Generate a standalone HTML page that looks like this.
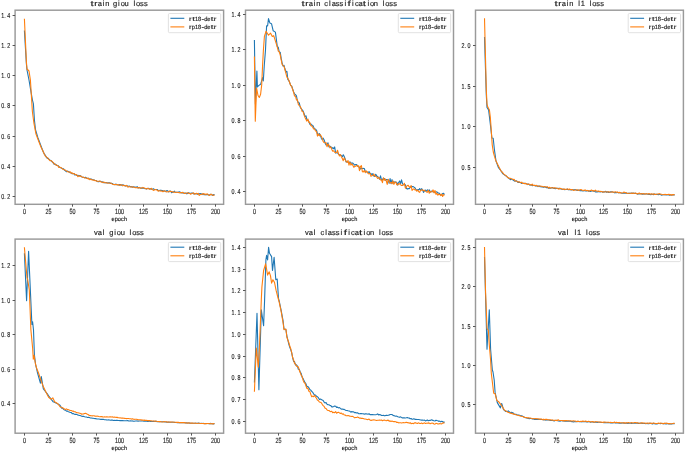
<!DOCTYPE html>
<html><head><meta charset="utf-8"><style>
html,body{margin:0;padding:0;background:#fff;}
svg{display:block;will-change:transform;}
text{font-family:"Liberation Sans",sans-serif;text-rendering:geometricPrecision;fill:#222;stroke:#222;stroke-width:0.15px;}
</style></head><body>
<svg width="685" height="452" viewBox="0 0 685 452">
<rect width="685" height="452" fill="#fff"/>
<path d="M24.4 30.5 L26.4 64 L27 70 L29 80 L31 91.9 L32.4 99.8 L33.4 103.8 L34.4 119.8 L35.5 129.7 L37.9 137.7 L40.9 145.7 L43.51 152.43 L44.47 154.11 L45.42 155.54 L46.38 157.13 L47.33 158.43 L48.29 158.24 L49.24 159.49 L50.2 160.16 L51.15 160.74 L52.11 161.76 L53.06 162.48 L54.02 164.1 L54.98 163.96 L55.93 164.52 L56.89 165.53 L57.84 165.48 L58.8 166.33 L59.75 167.44 L60.71 167.72 L61.66 168.15 L62.62 168.75 L63.58 168.9 L64.53 170.29 L65.49 170.78 L66.44 171.74 L67.4 171.08 L68.35 171.55 L69.31 172.01 L70.26 172.73 L71.22 172.98 L72.17 173.72 L73.13 173.73 L74.09 173.62 L75.04 175.09 L76 174.62 L76.95 175.57 L77.91 175.32 L78.86 175.83 L79.82 175.46 L80.77 176.04 L81.73 176.89 L82.69 177.28 L83.64 177.29 L84.6 177.75 L85.55 177.24 L86.51 178.21 L87.46 178.18 L88.42 178.29 L89.37 179.07 L90.33 179.01 L91.28 179.09 L92.24 179.53 L93.2 179.77 L94.15 180.06 L95.11 180.44 L96.06 180.5 L97.02 181.21 L97.97 181.65 L98.93 181.62 L99.88 181.3 L100.84 181.38 L101.8 181.96 L102.75 181.92 L103.71 182.71 L104.66 182.46 L105.62 182.74 L106.57 182.54 L107.53 183.01 L108.48 182.7 L109.44 182.71 L110.4 183.51 L111.35 183.16 L112.31 183.52 L113.26 184.24 L114.22 184.67 L115.17 184.24 L116.13 184.17 L117.08 184.74 L118.04 184.93 L118.99 184.88 L119.95 184.47 L120.91 184.72 L121.86 185.41 L122.82 184.72 L123.77 185.28 L124.73 185.83 L125.68 185.96 L126.64 185.56 L127.59 185.93 L128.55 186.19 L129.5 186.09 L130.46 186.77 L131.42 186.61 L132.37 187.26 L133.33 186.72 L134.28 186.98 L135.24 187.09 L136.19 187.42 L137.15 186.57 L138.1 187.96 L139.06 187.61 L140.02 187.84 L140.97 188.36 L141.93 187.99 L142.88 188.24 L143.84 188.23 L144.79 188.59 L145.75 188.63 L146.7 188.9 L147.66 188.57 L148.62 188.35 L149.57 189 L150.53 188.64 L151.48 189.2 L152.44 189.24 L153.39 188.71 L154.35 189.54 L155.3 189.45 L156.26 189.49 L157.21 189.46 L158.17 190.45 L159.13 190.67 L160.08 190.17 L161.04 190.36 L161.99 190.59 L162.95 190.66 L163.9 191.37 L164.86 190.86 L165.81 191.67 L166.77 190.5 L167.72 190.81 L168.68 191.88 L169.64 191.51 L170.59 190.97 L171.55 192.64 L172.5 192.15 L173.46 192.1 L174.41 191.11 L175.37 192.47 L176.32 192.21 L177.28 192.23 L178.24 192.23 L179.19 191.79 L180.15 192.1 L181.1 192.78 L182.06 193.06 L183.01 193.03 L183.97 193.01 L184.92 193.01 L185.88 193.2 L186.84 193.91 L187.79 193.19 L188.75 192.66 L189.7 193.49 L190.66 193.27 L191.61 193.07 L192.57 193.08 L193.52 193.92 L194.48 193.45 L195.43 193.71 L196.39 193.52 L197.35 194.34 L198.3 193.82 L199.26 193.88 L200.21 193.53 L201.17 193.7 L202.12 194.64 L203.08 193.92 L204.03 194.75 L204.99 194.62 L205.95 194.63 L206.9 194.65 L207.86 194.63 L208.81 195.13 L209.77 194.81 L210.72 194.3 L211.68 194.78 L212.63 195.54 L213.59 194.58 L214.54 195.08" fill="none" stroke="#1f77b4" stroke-width="1.1" stroke-linejoin="round"/>
<path d="M24.4 18.8 L26.4 62 L27 69 L29 71 L30.4 80 L31.4 95.9 L32.4 111.8 L34 123.7 L35.9 133.7 L38.9 141.7 L41.2 147.6 L43.51 152.33 L44.47 154.42 L45.42 156.14 L46.38 157.06 L47.33 157.65 L48.29 158.86 L49.24 159.8 L50.2 160.77 L51.15 160.62 L52.11 161.32 L53.06 162.75 L54.02 163.34 L54.98 164.42 L55.93 164.89 L56.89 165.16 L57.84 165.77 L58.8 167.53 L59.75 167.12 L60.71 167.61 L61.66 168.09 L62.62 169 L63.58 169.47 L64.53 169.73 L65.49 170.28 L66.44 170.85 L67.4 171.46 L68.35 172.05 L69.31 172.16 L70.26 171.85 L71.22 173.24 L72.17 172.88 L73.13 173.78 L74.09 173.61 L75.04 174.49 L76 174.51 L76.95 175.21 L77.91 176.7 L78.86 175.75 L79.82 176.41 L80.77 175.91 L81.73 176.63 L82.69 177.31 L83.64 177.34 L84.6 177.84 L85.55 177.99 L86.51 177.81 L87.46 178.65 L88.42 178.38 L89.37 179.65 L90.33 178.99 L91.28 179.69 L92.24 179.68 L93.2 180.29 L94.15 179.94 L95.11 180.8 L96.06 180.62 L97.02 181.34 L97.97 181.29 L98.93 181.29 L99.88 181.13 L100.84 181.91 L101.8 181.99 L102.75 182.62 L103.71 182.05 L104.66 182.59 L105.62 182.76 L106.57 182.86 L107.53 183.03 L108.48 183.18 L109.44 183.05 L110.4 183.05 L111.35 183.44 L112.31 183.98 L113.26 184.48 L114.22 184.44 L115.17 184.62 L116.13 184.63 L117.08 184.72 L118.04 184.63 L118.99 184.97 L119.95 185.47 L120.91 184.78 L121.86 184.76 L122.82 185.88 L123.77 185.35 L124.73 185.74 L125.68 185.9 L126.64 185.37 L127.59 186.96 L128.55 186.95 L129.5 186.58 L130.46 187.03 L131.42 186.98 L132.37 186.69 L133.33 187.08 L134.28 187.36 L135.24 187.74 L136.19 187.68 L137.15 187.53 L138.1 188.12 L139.06 187.41 L140.02 188.09 L140.97 188.31 L141.93 187.87 L142.88 187.4 L143.84 187.83 L144.79 188.36 L145.75 188.57 L146.7 189.05 L147.66 188.21 L148.62 188.75 L149.57 189.15 L150.53 188.99 L151.48 188.31 L152.44 189.67 L153.39 190.39 L154.35 190.05 L155.3 189.48 L156.26 189.82 L157.21 190.22 L158.17 191.23 L159.13 190.68 L160.08 190.64 L161.04 191.34 L161.99 190.87 L162.95 191.77 L163.9 190.9 L164.86 191.06 L165.81 191.6 L166.77 191.95 L167.72 191.74 L168.68 191.69 L169.64 190.97 L170.59 191.48 L171.55 191.6 L172.5 191.71 L173.46 192.22 L174.41 191.95 L175.37 192.46 L176.32 192.28 L177.28 192.21 L178.24 192.46 L179.19 192.66 L180.15 192.9 L181.1 192.47 L182.06 192.64 L183.01 192.29 L183.97 193.49 L184.92 193.51 L185.88 192.97 L186.84 192.93 L187.79 192.72 L188.75 193.34 L189.7 193.43 L190.66 194.25 L191.61 193.6 L192.57 193.28 L193.52 192.73 L194.48 194.27 L195.43 193.88 L196.39 193.26 L197.35 194.01 L198.3 193.39 L199.26 195.39 L200.21 194.56 L201.17 194.41 L202.12 194.19 L203.08 193.51 L204.03 194.34 L204.99 193.86 L205.95 194.74 L206.9 193.77 L207.86 194.3 L208.81 195.17 L209.77 195.4 L210.72 194.39 L211.68 194.32 L212.63 195.3 L213.59 195.36 L214.54 194.72" fill="none" stroke="#ff7f0e" stroke-width="1.1" stroke-linejoin="round"/>
<rect x="15.1" y="10.2" width="208.5" height="194.1" fill="none" stroke="#9a9a9a" stroke-width="1.45"/>
<line x1="24.5" y1="204.3" x2="24.5" y2="206.7" stroke="#444" stroke-width="0.9"/>
<g style="font-size:7.5px;stroke-width:0.14px;fill:#3a3a3a;stroke:#3a3a3a"><text transform="translate(23 213.9) scale(0.72 1)">0</text></g>
<line x1="48.5" y1="204.3" x2="48.5" y2="206.7" stroke="#444" stroke-width="0.9"/>
<g style="font-size:7.5px;stroke-width:0.14px;fill:#3a3a3a;stroke:#3a3a3a"><text transform="translate(45.52 213.9) scale(0.72 1)">2</text><text transform="translate(48.47 213.9) scale(0.72 1)">5</text></g>
<line x1="72.5" y1="204.3" x2="72.5" y2="206.7" stroke="#444" stroke-width="0.9"/>
<g style="font-size:7.5px;stroke-width:0.14px;fill:#3a3a3a;stroke:#3a3a3a"><text transform="translate(69.52 213.9) scale(0.72 1)">5</text><text transform="translate(72.47 213.9) scale(0.72 1)">0</text></g>
<line x1="96.5" y1="204.3" x2="96.5" y2="206.7" stroke="#444" stroke-width="0.9"/>
<g style="font-size:7.5px;stroke-width:0.14px;fill:#3a3a3a;stroke:#3a3a3a"><text transform="translate(93.52 213.9) scale(0.72 1)">7</text><text transform="translate(96.47 213.9) scale(0.72 1)">5</text></g>
<line x1="119.5" y1="204.3" x2="119.5" y2="206.7" stroke="#444" stroke-width="0.9"/>
<g style="font-size:7.5px;stroke-width:0.14px;fill:#3a3a3a;stroke:#3a3a3a"><text transform="translate(115.05 213.9) scale(0.72 1)">1</text><text transform="translate(118 213.9) scale(0.72 1)">0</text><text transform="translate(120.95 213.9) scale(0.72 1)">0</text></g>
<line x1="143.5" y1="204.3" x2="143.5" y2="206.7" stroke="#444" stroke-width="0.9"/>
<g style="font-size:7.5px;stroke-width:0.14px;fill:#3a3a3a;stroke:#3a3a3a"><text transform="translate(139.05 213.9) scale(0.72 1)">1</text><text transform="translate(142 213.9) scale(0.72 1)">2</text><text transform="translate(144.95 213.9) scale(0.72 1)">5</text></g>
<line x1="167.5" y1="204.3" x2="167.5" y2="206.7" stroke="#444" stroke-width="0.9"/>
<g style="font-size:7.5px;stroke-width:0.14px;fill:#3a3a3a;stroke:#3a3a3a"><text transform="translate(163.05 213.9) scale(0.72 1)">1</text><text transform="translate(166 213.9) scale(0.72 1)">5</text><text transform="translate(168.95 213.9) scale(0.72 1)">0</text></g>
<line x1="191.5" y1="204.3" x2="191.5" y2="206.7" stroke="#444" stroke-width="0.9"/>
<g style="font-size:7.5px;stroke-width:0.14px;fill:#3a3a3a;stroke:#3a3a3a"><text transform="translate(187.05 213.9) scale(0.72 1)">1</text><text transform="translate(190 213.9) scale(0.72 1)">7</text><text transform="translate(192.95 213.9) scale(0.72 1)">5</text></g>
<line x1="215.5" y1="204.3" x2="215.5" y2="206.7" stroke="#444" stroke-width="0.9"/>
<g style="font-size:7.5px;stroke-width:0.14px;fill:#3a3a3a;stroke:#3a3a3a"><text transform="translate(211.05 213.9) scale(0.72 1)">2</text><text transform="translate(214 213.9) scale(0.72 1)">0</text><text transform="translate(216.95 213.9) scale(0.72 1)">0</text></g>
<line x1="12.6" y1="196.5" x2="15.1" y2="196.5" stroke="#444" stroke-width="0.9"/>
<g style="font-size:7.2px;stroke-width:0.14px;fill:#3a3a3a;stroke:#3a3a3a"><text transform="translate(1.22 199.1) scale(0.74 1)">0</text><text transform="translate(4.3 199.1) scale(0.74 1)">.</text><text transform="translate(7.22 199.1) scale(0.74 1)">2</text></g>
<line x1="12.6" y1="166.5" x2="15.1" y2="166.5" stroke="#444" stroke-width="0.9"/>
<g style="font-size:7.2px;stroke-width:0.14px;fill:#3a3a3a;stroke:#3a3a3a"><text transform="translate(1.22 169.1) scale(0.74 1)">0</text><text transform="translate(4.3 169.1) scale(0.74 1)">.</text><text transform="translate(7.22 169.1) scale(0.74 1)">4</text></g>
<line x1="12.6" y1="136.5" x2="15.1" y2="136.5" stroke="#444" stroke-width="0.9"/>
<g style="font-size:7.2px;stroke-width:0.14px;fill:#3a3a3a;stroke:#3a3a3a"><text transform="translate(1.22 139.1) scale(0.74 1)">0</text><text transform="translate(4.3 139.1) scale(0.74 1)">.</text><text transform="translate(7.22 139.1) scale(0.74 1)">6</text></g>
<line x1="12.6" y1="105.5" x2="15.1" y2="105.5" stroke="#444" stroke-width="0.9"/>
<g style="font-size:7.2px;stroke-width:0.14px;fill:#3a3a3a;stroke:#3a3a3a"><text transform="translate(1.22 108.1) scale(0.74 1)">0</text><text transform="translate(4.3 108.1) scale(0.74 1)">.</text><text transform="translate(7.22 108.1) scale(0.74 1)">8</text></g>
<line x1="12.6" y1="75.5" x2="15.1" y2="75.5" stroke="#444" stroke-width="0.9"/>
<g style="font-size:7.2px;stroke-width:0.14px;fill:#3a3a3a;stroke:#3a3a3a"><text transform="translate(1.22 78.1) scale(0.74 1)">1</text><text transform="translate(4.3 78.1) scale(0.74 1)">.</text><text transform="translate(7.22 78.1) scale(0.74 1)">0</text></g>
<line x1="12.6" y1="45.5" x2="15.1" y2="45.5" stroke="#444" stroke-width="0.9"/>
<g style="font-size:7.2px;stroke-width:0.14px;fill:#3a3a3a;stroke:#3a3a3a"><text transform="translate(1.22 48.1) scale(0.74 1)">1</text><text transform="translate(4.3 48.1) scale(0.74 1)">.</text><text transform="translate(7.22 48.1) scale(0.74 1)">2</text></g>
<line x1="12.6" y1="15.5" x2="15.1" y2="15.5" stroke="#444" stroke-width="0.9"/>
<g style="font-size:7.2px;stroke-width:0.14px;fill:#3a3a3a;stroke:#3a3a3a"><text transform="translate(1.22 18.1) scale(0.74 1)">1</text><text transform="translate(4.3 18.1) scale(0.74 1)">.</text><text transform="translate(7.22 18.1) scale(0.74 1)">4</text></g>
<g style="font-size:6.1px;stroke-width:0.08px;fill:#2a2a2a;stroke:#2a2a2a"><text transform="translate(111.55 221.1) scale(0.92 1)">e</text><text transform="translate(114.67 221.1) scale(0.92 1)">p</text><text transform="translate(117.79 221.1) scale(0.92 1)">o</text><text transform="translate(121.07 221.1) scale(0.92 1)">c</text><text transform="translate(124.03 221.1) scale(0.92 1)">h</text></g>
<g style="font-size:7.5px;fill:#222"><text transform="translate(90.51 6) scale(1.562 1)">t</text><text transform="translate(94.34 6) scale(1.303 1)">r</text><text transform="translate(97.71 6) scale(1 1)">a</text><text transform="translate(102.8 6) scale(1 1)">i</text><text transform="translate(105.37 6) scale(1 1)">n</text><text transform="translate(113.03 6) scale(1 1)">g</text><text transform="translate(118.12 6) scale(1 1)">i</text><text transform="translate(120.69 6) scale(1 1)">o</text><text transform="translate(124.52 6) scale(1 1)">u</text><text transform="translate(133.44 6) scale(1 1)">l</text><text transform="translate(136.01 6) scale(1 1)">o</text><text transform="translate(140.06 6) scale(1 1)">s</text><text transform="translate(143.88 6) scale(1 1)">s</text></g>
<rect x="168.4" y="13.5" width="52.3" height="19.2" rx="1.2" fill="#fff" fill-opacity="0.8" stroke="#d9d9d9" stroke-width="0.8"/>
<line x1="170.4" y1="18.3" x2="184.3" y2="18.3" stroke="#1f77b4" stroke-width="1.1"/>
<g style="font-size:6px"><text transform="translate(189.03 20.8) scale(1.319 1)">r</text><text transform="translate(192.13 20.8) scale(1.581 1)">t</text><text transform="translate(194.96 20.8) scale(0.95 1)">1</text><text transform="translate(198.06 20.8) scale(0.95 1)">8</text><text transform="translate(201.43 20.8) scale(1.319 1)">-</text><text transform="translate(204.26 20.8) scale(0.95 1)">d</text><text transform="translate(207.36 20.8) scale(0.95 1)">e</text><text transform="translate(210.73 20.8) scale(1.581 1)">t</text><text transform="translate(213.83 20.8) scale(1.319 1)">r</text></g>
<line x1="170.4" y1="26.9" x2="184.3" y2="26.9" stroke="#ff7f0e" stroke-width="1.1"/>
<g style="font-size:6px"><text transform="translate(189.03 29.4) scale(1.319 1)">r</text><text transform="translate(191.86 29.4) scale(0.95 1)">p</text><text transform="translate(194.96 29.4) scale(0.95 1)">1</text><text transform="translate(198.06 29.4) scale(0.95 1)">8</text><text transform="translate(201.43 29.4) scale(1.319 1)">-</text><text transform="translate(204.26 29.4) scale(0.95 1)">d</text><text transform="translate(207.36 29.4) scale(0.95 1)">e</text><text transform="translate(210.73 29.4) scale(1.581 1)">t</text><text transform="translate(213.83 29.4) scale(1.319 1)">r</text></g>
<path d="M254.4 40.1 L255.4 104 L256.9 71 L257.4 87 L258.6 85.6 L260.6 84.3 L262.6 77.6 L263.3 81 L264.3 65 L265.5 50 L266.6 25.9 L267.6 26 L268.5 18.6 L269.9 23.1 L271.5 23.7 L273.2 30.8 L275.4 32.1 L277.33 46.76 L278.29 47.31 L279.24 52 L280.2 52.19 L281.15 58.15 L282.11 62.97 L283.06 66.18 L284.02 65.38 L284.98 69.02 L285.93 72.04 L286.89 71.28 L287.84 79.4 L288.8 80.53 L289.75 82.72 L290.71 85.57 L291.66 85.93 L292.62 88.81 L293.58 91.77 L294.53 93.86 L295.49 94.59 L296.44 95.94 L297.4 100.75 L298.35 102.82 L299.31 102.88 L300.26 107.47 L301.22 108.52 L302.18 109.95 L303.13 111.2 L304.09 113.55 L305.04 116.42 L306 115.88 L306.95 119.98 L307.91 120.01 L308.86 121.49 L309.82 124.21 L310.77 123.75 L311.73 125.3 L312.69 125.28 L313.64 127.29 L314.6 128.77 L315.55 129.17 L316.51 130.27 L317.46 133.6 L318.42 134.98 L319.37 133.6 L320.33 135.1 L321.29 138.18 L322.24 139.83 L323.2 138.19 L324.15 139.98 L325.11 142.93 L326.06 144.93 L327.02 144.62 L327.97 142.77 L328.93 146.94 L329.88 146.14 L330.84 146.78 L331.8 148.56 L332.75 147.66 L333.71 148.77 L334.66 146.88 L335.62 153.08 L336.57 152.71 L337.53 152.69 L338.48 154.17 L339.44 154.83 L340.39 154.99 L341.35 155.48 L342.31 156.75 L343.26 154.73 L344.22 156.5 L345.17 159.01 L346.13 162 L347.08 161.39 L348.04 162.28 L348.99 162.66 L349.95 161.92 L350.91 163.09 L351.86 163.12 L352.82 163.03 L353.77 164.06 L354.73 165.12 L355.68 164.47 L356.64 164.6 L357.59 166.31 L358.55 166.59 L359.5 167.28 L360.46 168.99 L361.42 168.24 L362.37 168.56 L363.33 168.42 L364.28 168.51 L365.24 171.25 L366.19 171.8 L367.15 172.14 L368.1 172.6 L369.06 171.61 L370.02 173.35 L370.97 173.51 L371.93 174.54 L372.88 173.58 L373.84 176.13 L374.79 176.46 L375.75 174.28 L376.7 175.88 L377.66 176.49 L378.62 177.62 L379.57 179.11 L380.53 175.79 L381.48 179.76 L382.44 179.57 L383.39 178.35 L384.35 178.51 L385.3 180.34 L386.26 179.54 L387.21 179.56 L388.17 179.94 L389.13 183.3 L390.08 178.55 L391.04 183.7 L391.99 179.57 L392.95 183.32 L393.9 181.53 L394.86 182.53 L395.81 181.89 L396.77 182.55 L397.73 185.01 L398.68 182.55 L399.64 180.94 L400.59 183.57 L401.55 179.9 L402.5 183.69 L403.46 184.79 L404.41 184.45 L405.37 184.85 L406.32 188.24 L407.28 189.08 L408.24 188.55 L409.19 188.77 L410.15 187.52 L411.1 186.28 L412.06 186.65 L413.01 186.45 L413.97 187.1 L414.92 187.73 L415.88 189.41 L416.84 190.58 L417.79 189.54 L418.75 190.06 L419.7 188.46 L420.66 190.33 L421.61 188.68 L422.57 189.81 L423.52 192.38 L424.48 190.7 L425.43 190.07 L426.39 191.25 L427.35 189.77 L428.3 190.9 L429.26 189.81 L430.21 192.19 L431.17 191.08 L432.12 191.41 L433.08 191.86 L434.03 191.97 L434.99 192.17 L435.95 192.01 L436.9 191.81 L437.86 192.91 L438.81 192.99 L439.77 193.91 L440.72 194.55 L441.68 195.08 L442.63 193.51 L443.59 193.3 L444.54 194.49" fill="none" stroke="#1f77b4" stroke-width="1.1" stroke-linejoin="round"/>
<path d="M254.4 56.4 L255.3 121.2 L256.6 88.2 L258 95.5 L259.3 97.5 L260.6 94.2 L261.7 84.9 L262.6 65 L263.4 50 L264.4 36.5 L266.1 31.2 L268.5 35.2 L270.6 33.2 L272.3 36.5 L273.7 35.7 L277.33 47.13 L278.29 51.12 L279.24 51.72 L280.2 54.88 L281.15 59.75 L282.11 64.38 L283.06 65.55 L284.02 66.41 L284.98 69.77 L285.93 73.36 L286.89 77.05 L287.84 78.23 L288.8 80.2 L289.75 82.78 L290.71 85.48 L291.66 86.46 L292.62 89.56 L293.58 92.05 L294.53 96 L295.49 96.19 L296.44 99.86 L297.4 99.67 L298.35 104.43 L299.31 105.55 L300.26 106.35 L301.22 108.7 L302.18 111.57 L303.13 111.71 L304.09 115.16 L305.04 117.54 L306 119.41 L306.95 121.14 L307.91 119.1 L308.86 122.41 L309.82 122.37 L310.77 125.7 L311.73 125.85 L312.69 127.31 L313.64 128.91 L314.6 128.85 L315.55 131.02 L316.51 131.26 L317.46 136.08 L318.42 134.02 L319.37 135.81 L320.33 134.73 L321.29 136.28 L322.24 138.29 L323.2 141.56 L324.15 142.48 L325.11 142.81 L326.06 142.59 L327.02 146.73 L327.97 144.01 L328.93 145.18 L329.88 147.85 L330.84 146.92 L331.8 149.41 L332.75 151.18 L333.71 150.72 L334.66 152.2 L335.62 152.59 L336.57 152.55 L337.53 150.23 L338.48 153.59 L339.44 155.92 L340.39 154.59 L341.35 156.73 L342.31 158.47 L343.26 160.67 L344.22 157.97 L345.17 159.8 L346.13 161.52 L347.08 162.46 L348.04 160.5 L348.99 165.12 L349.95 162.17 L350.91 165.09 L351.86 163.92 L352.82 165.18 L353.77 167.27 L354.73 166.52 L355.68 166.26 L356.64 165.29 L357.59 166.23 L358.55 165.72 L359.5 170.62 L360.46 166.52 L361.42 165.69 L362.37 171.69 L363.33 171.9 L364.28 170.47 L365.24 172.63 L366.19 170.95 L367.15 171.71 L368.1 173.55 L369.06 173.86 L370.02 173.21 L370.97 176.34 L371.93 175.65 L372.88 175.33 L373.84 174.09 L374.79 176.26 L375.75 176.15 L376.7 176.93 L377.66 178.53 L378.62 177.23 L379.57 178.78 L380.53 179.94 L381.48 179.84 L382.44 182.65 L383.39 177.74 L384.35 180.19 L385.3 179.03 L386.26 180.76 L387.21 184.38 L388.17 179.31 L389.13 181.33 L390.08 182.84 L391.04 182.4 L391.99 183.75 L392.95 180.85 L393.9 184.4 L394.86 182.2 L395.81 182.15 L396.77 184.74 L397.73 184.91 L398.68 183.64 L399.64 183.81 L400.59 184.89 L401.55 185.42 L402.5 185.5 L403.46 184.69 L404.41 183.29 L405.37 188.26 L406.32 187.07 L407.28 185.53 L408.24 185.4 L409.19 186.82 L410.15 187.46 L411.1 185.53 L412.06 190.38 L413.01 189.41 L413.97 188.73 L414.92 189.88 L415.88 189.91 L416.84 191.17 L417.79 190.18 L418.75 191.8 L419.7 192.35 L420.66 190.13 L421.61 190.13 L422.57 189.76 L423.52 190.77 L424.48 190.27 L425.43 191.36 L426.39 191.88 L427.35 192.32 L428.3 190.27 L429.26 193.3 L430.21 191.63 L431.17 192.03 L432.12 191.65 L433.08 189.88 L434.03 192.95 L434.99 190.47 L435.95 194.35 L436.9 193.12 L437.86 195.23 L438.81 194.2 L439.77 194.42 L440.72 195.63 L441.68 194.07 L442.63 196.43 L443.59 194.59 L444.54 195.25" fill="none" stroke="#ff7f0e" stroke-width="1.1" stroke-linejoin="round"/>
<rect x="245.5" y="10.2" width="208" height="194.1" fill="none" stroke="#9a9a9a" stroke-width="1.45"/>
<line x1="254.5" y1="204.3" x2="254.5" y2="206.7" stroke="#444" stroke-width="0.9"/>
<g style="font-size:7.5px;stroke-width:0.14px;fill:#3a3a3a;stroke:#3a3a3a"><text transform="translate(253 213.9) scale(0.72 1)">0</text></g>
<line x1="278.5" y1="204.3" x2="278.5" y2="206.7" stroke="#444" stroke-width="0.9"/>
<g style="font-size:7.5px;stroke-width:0.14px;fill:#3a3a3a;stroke:#3a3a3a"><text transform="translate(275.52 213.9) scale(0.72 1)">2</text><text transform="translate(278.47 213.9) scale(0.72 1)">5</text></g>
<line x1="302.5" y1="204.3" x2="302.5" y2="206.7" stroke="#444" stroke-width="0.9"/>
<g style="font-size:7.5px;stroke-width:0.14px;fill:#3a3a3a;stroke:#3a3a3a"><text transform="translate(299.52 213.9) scale(0.72 1)">5</text><text transform="translate(302.47 213.9) scale(0.72 1)">0</text></g>
<line x1="326.5" y1="204.3" x2="326.5" y2="206.7" stroke="#444" stroke-width="0.9"/>
<g style="font-size:7.5px;stroke-width:0.14px;fill:#3a3a3a;stroke:#3a3a3a"><text transform="translate(323.52 213.9) scale(0.72 1)">7</text><text transform="translate(326.47 213.9) scale(0.72 1)">5</text></g>
<line x1="349.5" y1="204.3" x2="349.5" y2="206.7" stroke="#444" stroke-width="0.9"/>
<g style="font-size:7.5px;stroke-width:0.14px;fill:#3a3a3a;stroke:#3a3a3a"><text transform="translate(345.05 213.9) scale(0.72 1)">1</text><text transform="translate(348 213.9) scale(0.72 1)">0</text><text transform="translate(350.95 213.9) scale(0.72 1)">0</text></g>
<line x1="373.5" y1="204.3" x2="373.5" y2="206.7" stroke="#444" stroke-width="0.9"/>
<g style="font-size:7.5px;stroke-width:0.14px;fill:#3a3a3a;stroke:#3a3a3a"><text transform="translate(369.05 213.9) scale(0.72 1)">1</text><text transform="translate(372 213.9) scale(0.72 1)">2</text><text transform="translate(374.95 213.9) scale(0.72 1)">5</text></g>
<line x1="397.5" y1="204.3" x2="397.5" y2="206.7" stroke="#444" stroke-width="0.9"/>
<g style="font-size:7.5px;stroke-width:0.14px;fill:#3a3a3a;stroke:#3a3a3a"><text transform="translate(393.05 213.9) scale(0.72 1)">1</text><text transform="translate(396 213.9) scale(0.72 1)">5</text><text transform="translate(398.95 213.9) scale(0.72 1)">0</text></g>
<line x1="421.5" y1="204.3" x2="421.5" y2="206.7" stroke="#444" stroke-width="0.9"/>
<g style="font-size:7.5px;stroke-width:0.14px;fill:#3a3a3a;stroke:#3a3a3a"><text transform="translate(417.05 213.9) scale(0.72 1)">1</text><text transform="translate(420 213.9) scale(0.72 1)">7</text><text transform="translate(422.95 213.9) scale(0.72 1)">5</text></g>
<line x1="445.5" y1="204.3" x2="445.5" y2="206.7" stroke="#444" stroke-width="0.9"/>
<g style="font-size:7.5px;stroke-width:0.14px;fill:#3a3a3a;stroke:#3a3a3a"><text transform="translate(441.05 213.9) scale(0.72 1)">2</text><text transform="translate(444 213.9) scale(0.72 1)">0</text><text transform="translate(446.95 213.9) scale(0.72 1)">0</text></g>
<line x1="243" y1="191.5" x2="245.5" y2="191.5" stroke="#444" stroke-width="0.9"/>
<g style="font-size:7.2px;stroke-width:0.14px;fill:#3a3a3a;stroke:#3a3a3a"><text transform="translate(231.62 194.1) scale(0.74 1)">0</text><text transform="translate(234.7 194.1) scale(0.74 1)">.</text><text transform="translate(237.62 194.1) scale(0.74 1)">4</text></g>
<line x1="243" y1="156.5" x2="245.5" y2="156.5" stroke="#444" stroke-width="0.9"/>
<g style="font-size:7.2px;stroke-width:0.14px;fill:#3a3a3a;stroke:#3a3a3a"><text transform="translate(231.62 159.1) scale(0.74 1)">0</text><text transform="translate(234.7 159.1) scale(0.74 1)">.</text><text transform="translate(237.62 159.1) scale(0.74 1)">6</text></g>
<line x1="243" y1="120.5" x2="245.5" y2="120.5" stroke="#444" stroke-width="0.9"/>
<g style="font-size:7.2px;stroke-width:0.14px;fill:#3a3a3a;stroke:#3a3a3a"><text transform="translate(231.62 123.1) scale(0.74 1)">0</text><text transform="translate(234.7 123.1) scale(0.74 1)">.</text><text transform="translate(237.62 123.1) scale(0.74 1)">8</text></g>
<line x1="243" y1="85.5" x2="245.5" y2="85.5" stroke="#444" stroke-width="0.9"/>
<g style="font-size:7.2px;stroke-width:0.14px;fill:#3a3a3a;stroke:#3a3a3a"><text transform="translate(231.62 88.1) scale(0.74 1)">1</text><text transform="translate(234.7 88.1) scale(0.74 1)">.</text><text transform="translate(237.62 88.1) scale(0.74 1)">0</text></g>
<line x1="243" y1="49.5" x2="245.5" y2="49.5" stroke="#444" stroke-width="0.9"/>
<g style="font-size:7.2px;stroke-width:0.14px;fill:#3a3a3a;stroke:#3a3a3a"><text transform="translate(231.62 52.1) scale(0.74 1)">1</text><text transform="translate(234.7 52.1) scale(0.74 1)">.</text><text transform="translate(237.62 52.1) scale(0.74 1)">2</text></g>
<line x1="243" y1="14.5" x2="245.5" y2="14.5" stroke="#444" stroke-width="0.9"/>
<g style="font-size:7.2px;stroke-width:0.14px;fill:#3a3a3a;stroke:#3a3a3a"><text transform="translate(231.62 17.1) scale(0.74 1)">1</text><text transform="translate(234.7 17.1) scale(0.74 1)">.</text><text transform="translate(237.62 17.1) scale(0.74 1)">4</text></g>
<g style="font-size:6.1px;stroke-width:0.08px;fill:#2a2a2a;stroke:#2a2a2a"><text transform="translate(341.7 221.1) scale(0.92 1)">e</text><text transform="translate(344.82 221.1) scale(0.92 1)">p</text><text transform="translate(347.94 221.1) scale(0.92 1)">o</text><text transform="translate(351.22 221.1) scale(0.92 1)">c</text><text transform="translate(354.18 221.1) scale(0.92 1)">h</text></g>
<g style="font-size:7.5px;fill:#222"><text transform="translate(301.51 6) scale(1.562 1)">t</text><text transform="translate(305.34 6) scale(1.303 1)">r</text><text transform="translate(308.71 6) scale(1 1)">a</text><text transform="translate(313.8 6) scale(1 1)">i</text><text transform="translate(316.37 6) scale(1 1)">n</text><text transform="translate(324.25 6) scale(1 1)">c</text><text transform="translate(329.12 6) scale(1 1)">l</text><text transform="translate(331.69 6) scale(1 1)">a</text><text transform="translate(335.74 6) scale(1 1)">s</text><text transform="translate(339.57 6) scale(1 1)">s</text><text transform="translate(344.44 6) scale(1 1)">i</text><text transform="translate(347.47 6) scale(1.562 1)">f</text><text transform="translate(352.1 6) scale(1 1)">i</text><text transform="translate(354.89 6) scale(1 1)">c</text><text transform="translate(358.5 6) scale(1 1)">a</text><text transform="translate(362.79 6) scale(1.562 1)">t</text><text transform="translate(367.42 6) scale(1 1)">i</text><text transform="translate(369.99 6) scale(1 1)">o</text><text transform="translate(373.82 6) scale(1 1)">n</text><text transform="translate(382.74 6) scale(1 1)">l</text><text transform="translate(385.31 6) scale(1 1)">o</text><text transform="translate(389.36 6) scale(1 1)">s</text><text transform="translate(393.19 6) scale(1 1)">s</text></g>
<rect x="398.3" y="13.5" width="52.3" height="19.2" rx="1.2" fill="#fff" fill-opacity="0.8" stroke="#d9d9d9" stroke-width="0.8"/>
<line x1="400.3" y1="18.3" x2="414.2" y2="18.3" stroke="#1f77b4" stroke-width="1.1"/>
<g style="font-size:6px"><text transform="translate(418.93 20.8) scale(1.319 1)">r</text><text transform="translate(422.03 20.8) scale(1.581 1)">t</text><text transform="translate(424.86 20.8) scale(0.95 1)">1</text><text transform="translate(427.96 20.8) scale(0.95 1)">8</text><text transform="translate(431.33 20.8) scale(1.319 1)">-</text><text transform="translate(434.16 20.8) scale(0.95 1)">d</text><text transform="translate(437.26 20.8) scale(0.95 1)">e</text><text transform="translate(440.63 20.8) scale(1.581 1)">t</text><text transform="translate(443.73 20.8) scale(1.319 1)">r</text></g>
<line x1="400.3" y1="26.9" x2="414.2" y2="26.9" stroke="#ff7f0e" stroke-width="1.1"/>
<g style="font-size:6px"><text transform="translate(418.93 29.4) scale(1.319 1)">r</text><text transform="translate(421.76 29.4) scale(0.95 1)">p</text><text transform="translate(424.86 29.4) scale(0.95 1)">1</text><text transform="translate(427.96 29.4) scale(0.95 1)">8</text><text transform="translate(431.33 29.4) scale(1.319 1)">-</text><text transform="translate(434.16 29.4) scale(0.95 1)">d</text><text transform="translate(437.26 29.4) scale(0.95 1)">e</text><text transform="translate(440.63 29.4) scale(1.581 1)">t</text><text transform="translate(443.73 29.4) scale(1.319 1)">r</text></g>
<path d="M484.5 36.9 L486.3 95 L487 107.4 L488.6 109.9 L490.3 123.9 L491.9 138 L493.2 138.3 L494.4 149.5 L496 161.1 L498.5 167.7 L500.74 170.46 L501.7 171.87 L502.65 173.58 L503.61 174.16 L504.57 174.87 L505.52 175.78 L506.48 175.95 L507.43 177.3 L508.39 178.11 L509.34 178.31 L510.3 179.68 L511.25 179.12 L512.21 179.57 L513.16 180.09 L514.12 180.7 L515.08 181.29 L516.03 180.67 L516.99 181.23 L517.94 182.38 L518.9 182.12 L519.85 182.35 L520.81 182.69 L521.76 183.5 L522.72 183.3 L523.68 183.24 L524.63 183.28 L525.59 183.58 L526.54 184.01 L527.5 183.95 L528.45 184.04 L529.41 184.96 L530.36 185.08 L531.32 184.81 L532.27 185.71 L533.23 185.51 L534.19 185.35 L535.14 185.87 L536.1 185.95 L537.05 185.8 L538.01 186.63 L538.96 185.87 L539.92 186.69 L540.87 186.44 L541.83 187.04 L542.79 186.99 L543.74 187.36 L544.7 186.5 L545.65 187.18 L546.61 187.7 L547.56 187.38 L548.52 188.27 L549.47 188.05 L550.43 188.21 L551.38 187.91 L552.34 187.45 L553.3 188.31 L554.25 188.34 L555.21 188.67 L556.16 188.39 L557.12 188.22 L558.07 188.52 L559.03 188.32 L559.98 188.63 L560.94 189.02 L561.9 189.17 L562.85 189.45 L563.81 189.12 L564.76 189.67 L565.72 189.51 L566.67 189.2 L567.63 189.38 L568.58 189.71 L569.54 189.57 L570.5 189.62 L571.45 190.01 L572.41 189.53 L573.36 189.89 L574.32 189.77 L575.27 189.62 L576.23 190.1 L577.18 190.56 L578.14 190.16 L579.09 190.11 L580.05 190.78 L581.01 190.62 L581.96 190.66 L582.92 190.91 L583.87 190.67 L584.83 190.65 L585.78 191.02 L586.74 190.88 L587.69 190.42 L588.65 191.21 L589.61 191.03 L590.56 191.57 L591.52 191.1 L592.47 190.55 L593.43 191.2 L594.38 191.2 L595.34 191.87 L596.29 191.76 L597.25 191.89 L598.2 191.4 L599.16 191.62 L600.12 192.1 L601.07 191.38 L602.03 191.87 L602.98 192.17 L603.94 191.7 L604.89 191.95 L605.85 191.27 L606.8 192.42 L607.76 191.75 L608.72 192.53 L609.67 192.28 L610.63 191.8 L611.58 191.88 L612.54 192.02 L613.49 192.32 L614.45 192.86 L615.4 192.5 L616.36 192.74 L617.31 192.24 L618.27 192.83 L619.23 192.67 L620.18 192.8 L621.14 192.95 L622.09 193.33 L623.05 193.19 L624 193.2 L624.96 193.12 L625.91 193.03 L626.87 193.35 L627.83 193.38 L628.78 193.25 L629.74 193.36 L630.69 193.26 L631.65 193.1 L632.6 193.54 L633.56 193.04 L634.51 193.54 L635.47 193.29 L636.42 193.56 L637.38 194.13 L638.34 193.92 L639.29 194.01 L640.25 193.76 L641.2 193.54 L642.16 194.17 L643.11 194.24 L644.07 193.85 L645.02 193.94 L645.98 193.99 L646.93 193.99 L647.89 194.32 L648.85 194.46 L649.8 194.11 L650.76 194.73 L651.71 194.08 L652.67 194.46 L653.62 194.6 L654.58 193.88 L655.53 194.45 L656.49 194.31 L657.45 194.48 L658.4 194.66 L659.36 194.55 L660.31 194.26 L661.27 195.22 L662.22 195.05 L663.18 194.78 L664.13 194.77 L665.09 195.03 L666.05 194.61 L667 195.08 L667.96 194.55 L668.91 195.12 L669.87 195.19 L670.82 194.97 L671.78 194.94 L672.73 195.08 L673.69 194.79 L674.64 194.84" fill="none" stroke="#1f77b4" stroke-width="1.1" stroke-linejoin="round"/>
<path d="M484.5 18.2 L486.3 90 L487 104 L487.6 106.6 L489.4 109.9 L490.3 117 L491.1 128 L492.2 144.6 L493.3 152 L494.4 156.2 L495.8 160.5 L497.7 164.4 L500.74 170.54 L501.7 171.64 L502.65 172.5 L503.61 174.06 L504.57 174.61 L505.52 175.37 L506.48 176.05 L507.43 177.24 L508.39 177.78 L509.34 178.43 L510.3 178.36 L511.25 178.72 L512.21 178.95 L513.16 179.61 L514.12 179.23 L515.08 181.02 L516.03 180.96 L516.99 181.36 L517.94 181.93 L518.9 181.79 L519.85 182.24 L520.81 182.67 L521.76 182.17 L522.72 183.48 L523.68 183.23 L524.63 183.64 L525.59 183.36 L526.54 183.7 L527.5 184.61 L528.45 184.06 L529.41 184.26 L530.36 184.71 L531.32 185.18 L532.27 184.11 L533.23 185.53 L534.19 185.3 L535.14 185.67 L536.1 185.22 L537.05 185.81 L538.01 186.38 L538.96 185.97 L539.92 185.93 L540.87 186.12 L541.83 186.23 L542.79 186.79 L543.74 186.73 L544.7 186.64 L545.65 187.19 L546.61 186.72 L547.56 186.74 L548.52 188.12 L549.47 187.26 L550.43 188.12 L551.38 187.71 L552.34 187.78 L553.3 188.12 L554.25 187.78 L555.21 187.88 L556.16 188.18 L557.12 188.23 L558.07 188.68 L559.03 189.18 L559.98 188.27 L560.94 188.47 L561.9 189.09 L562.85 189.11 L563.81 189.41 L564.76 188.91 L565.72 189.44 L566.67 189.31 L567.63 188.86 L568.58 189.58 L569.54 188.98 L570.5 189.71 L571.45 189.45 L572.41 189.58 L573.36 190.39 L574.32 190.24 L575.27 189.94 L576.23 189.99 L577.18 189.66 L578.14 190.37 L579.09 190.22 L580.05 189.79 L581.01 189.59 L581.96 190.18 L582.92 190.19 L583.87 190.58 L584.83 190.03 L585.78 190.14 L586.74 190.62 L587.69 190.57 L588.65 190.91 L589.61 191.02 L590.56 190.43 L591.52 190.02 L592.47 190.86 L593.43 190.66 L594.38 191.04 L595.34 190.14 L596.29 191.04 L597.25 191.17 L598.2 191.02 L599.16 191.42 L600.12 191.35 L601.07 191.45 L602.03 191.86 L602.98 191.92 L603.94 191.96 L604.89 191.76 L605.85 191.75 L606.8 191.95 L607.76 191.93 L608.72 191.66 L609.67 192.08 L610.63 192.32 L611.58 191.95 L612.54 191.8 L613.49 192.4 L614.45 192.03 L615.4 191.86 L616.36 192.33 L617.31 191.98 L618.27 192.61 L619.23 192.38 L620.18 192.62 L621.14 193.01 L622.09 193.05 L623.05 192.71 L624 192.06 L624.96 192.68 L625.91 192.51 L626.87 193.22 L627.83 193.48 L628.78 193.25 L629.74 193.28 L630.69 193.3 L631.65 193.39 L632.6 193.1 L633.56 193.55 L634.51 193.21 L635.47 192.99 L636.42 193.42 L637.38 193.97 L638.34 193.44 L639.29 192.98 L640.25 193.99 L641.2 193.71 L642.16 193.84 L643.11 193.55 L644.07 193.89 L645.02 194.28 L645.98 193.59 L646.93 194.06 L647.89 193.98 L648.85 193.62 L649.8 193.99 L650.76 194.16 L651.71 193.73 L652.67 194.41 L653.62 193.71 L654.58 194.47 L655.53 194.34 L656.49 194.25 L657.45 193.95 L658.4 193.99 L659.36 193.56 L660.31 194.3 L661.27 194.3 L662.22 194.55 L663.18 194.73 L664.13 194.5 L665.09 194.37 L666.05 194.82 L667 194.54 L667.96 194.57 L668.91 194.23 L669.87 194.98 L670.82 194.46 L671.78 195.33 L672.73 194.47 L673.69 194.62 L674.64 194.84" fill="none" stroke="#ff7f0e" stroke-width="1.1" stroke-linejoin="round"/>
<rect x="475.5" y="10.2" width="207.9" height="194.1" fill="none" stroke="#9a9a9a" stroke-width="1.45"/>
<line x1="484.5" y1="204.3" x2="484.5" y2="206.7" stroke="#444" stroke-width="0.9"/>
<g style="font-size:7.5px;stroke-width:0.14px;fill:#3a3a3a;stroke:#3a3a3a"><text transform="translate(483 213.9) scale(0.72 1)">0</text></g>
<line x1="508.5" y1="204.3" x2="508.5" y2="206.7" stroke="#444" stroke-width="0.9"/>
<g style="font-size:7.5px;stroke-width:0.14px;fill:#3a3a3a;stroke:#3a3a3a"><text transform="translate(505.52 213.9) scale(0.72 1)">2</text><text transform="translate(508.47 213.9) scale(0.72 1)">5</text></g>
<line x1="532.5" y1="204.3" x2="532.5" y2="206.7" stroke="#444" stroke-width="0.9"/>
<g style="font-size:7.5px;stroke-width:0.14px;fill:#3a3a3a;stroke:#3a3a3a"><text transform="translate(529.52 213.9) scale(0.72 1)">5</text><text transform="translate(532.47 213.9) scale(0.72 1)">0</text></g>
<line x1="556.5" y1="204.3" x2="556.5" y2="206.7" stroke="#444" stroke-width="0.9"/>
<g style="font-size:7.5px;stroke-width:0.14px;fill:#3a3a3a;stroke:#3a3a3a"><text transform="translate(553.52 213.9) scale(0.72 1)">7</text><text transform="translate(556.47 213.9) scale(0.72 1)">5</text></g>
<line x1="580.5" y1="204.3" x2="580.5" y2="206.7" stroke="#444" stroke-width="0.9"/>
<g style="font-size:7.5px;stroke-width:0.14px;fill:#3a3a3a;stroke:#3a3a3a"><text transform="translate(576.05 213.9) scale(0.72 1)">1</text><text transform="translate(579 213.9) scale(0.72 1)">0</text><text transform="translate(581.95 213.9) scale(0.72 1)">0</text></g>
<line x1="603.5" y1="204.3" x2="603.5" y2="206.7" stroke="#444" stroke-width="0.9"/>
<g style="font-size:7.5px;stroke-width:0.14px;fill:#3a3a3a;stroke:#3a3a3a"><text transform="translate(599.05 213.9) scale(0.72 1)">1</text><text transform="translate(602 213.9) scale(0.72 1)">2</text><text transform="translate(604.95 213.9) scale(0.72 1)">5</text></g>
<line x1="627.5" y1="204.3" x2="627.5" y2="206.7" stroke="#444" stroke-width="0.9"/>
<g style="font-size:7.5px;stroke-width:0.14px;fill:#3a3a3a;stroke:#3a3a3a"><text transform="translate(623.05 213.9) scale(0.72 1)">1</text><text transform="translate(626 213.9) scale(0.72 1)">5</text><text transform="translate(628.95 213.9) scale(0.72 1)">0</text></g>
<line x1="651.5" y1="204.3" x2="651.5" y2="206.7" stroke="#444" stroke-width="0.9"/>
<g style="font-size:7.5px;stroke-width:0.14px;fill:#3a3a3a;stroke:#3a3a3a"><text transform="translate(647.05 213.9) scale(0.72 1)">1</text><text transform="translate(650 213.9) scale(0.72 1)">7</text><text transform="translate(652.95 213.9) scale(0.72 1)">5</text></g>
<line x1="675.5" y1="204.3" x2="675.5" y2="206.7" stroke="#444" stroke-width="0.9"/>
<g style="font-size:7.5px;stroke-width:0.14px;fill:#3a3a3a;stroke:#3a3a3a"><text transform="translate(671.05 213.9) scale(0.72 1)">2</text><text transform="translate(674 213.9) scale(0.72 1)">0</text><text transform="translate(676.95 213.9) scale(0.72 1)">0</text></g>
<line x1="473" y1="167.5" x2="475.5" y2="167.5" stroke="#444" stroke-width="0.9"/>
<g style="font-size:7.2px;stroke-width:0.14px;fill:#3a3a3a;stroke:#3a3a3a"><text transform="translate(461.62 170.1) scale(0.74 1)">0</text><text transform="translate(464.7 170.1) scale(0.74 1)">.</text><text transform="translate(467.62 170.1) scale(0.74 1)">5</text></g>
<line x1="473" y1="126.5" x2="475.5" y2="126.5" stroke="#444" stroke-width="0.9"/>
<g style="font-size:7.2px;stroke-width:0.14px;fill:#3a3a3a;stroke:#3a3a3a"><text transform="translate(461.62 129.1) scale(0.74 1)">1</text><text transform="translate(464.7 129.1) scale(0.74 1)">.</text><text transform="translate(467.62 129.1) scale(0.74 1)">0</text></g>
<line x1="473" y1="86.5" x2="475.5" y2="86.5" stroke="#444" stroke-width="0.9"/>
<g style="font-size:7.2px;stroke-width:0.14px;fill:#3a3a3a;stroke:#3a3a3a"><text transform="translate(461.62 89.1) scale(0.74 1)">1</text><text transform="translate(464.7 89.1) scale(0.74 1)">.</text><text transform="translate(467.62 89.1) scale(0.74 1)">5</text></g>
<line x1="473" y1="45.5" x2="475.5" y2="45.5" stroke="#444" stroke-width="0.9"/>
<g style="font-size:7.2px;stroke-width:0.14px;fill:#3a3a3a;stroke:#3a3a3a"><text transform="translate(461.62 48.1) scale(0.74 1)">2</text><text transform="translate(464.7 48.1) scale(0.74 1)">.</text><text transform="translate(467.62 48.1) scale(0.74 1)">0</text></g>
<g style="font-size:6.1px;stroke-width:0.08px;fill:#2a2a2a;stroke:#2a2a2a"><text transform="translate(571.65 221.1) scale(0.92 1)">e</text><text transform="translate(574.77 221.1) scale(0.92 1)">p</text><text transform="translate(577.89 221.1) scale(0.92 1)">o</text><text transform="translate(581.17 221.1) scale(0.92 1)">c</text><text transform="translate(584.13 221.1) scale(0.92 1)">h</text></g>
<g style="font-size:7.5px;fill:#222"><text transform="translate(554.44 6) scale(1.562 1)">t</text><text transform="translate(558.27 6) scale(1.303 1)">r</text><text transform="translate(561.64 6) scale(1 1)">a</text><text transform="translate(566.73 6) scale(1 1)">i</text><text transform="translate(569.3 6) scale(1 1)">n</text><text transform="translate(578.22 6) scale(1 1)">l</text><text transform="translate(580.79 6) scale(1 1)">1</text><text transform="translate(589.71 6) scale(1 1)">l</text><text transform="translate(592.28 6) scale(1 1)">o</text><text transform="translate(596.33 6) scale(1 1)">s</text><text transform="translate(600.16 6) scale(1 1)">s</text></g>
<rect x="628.2" y="13.5" width="52.3" height="19.2" rx="1.2" fill="#fff" fill-opacity="0.8" stroke="#d9d9d9" stroke-width="0.8"/>
<line x1="630.2" y1="18.3" x2="644.1" y2="18.3" stroke="#1f77b4" stroke-width="1.1"/>
<g style="font-size:6px"><text transform="translate(648.83 20.8) scale(1.319 1)">r</text><text transform="translate(651.93 20.8) scale(1.581 1)">t</text><text transform="translate(654.76 20.8) scale(0.95 1)">1</text><text transform="translate(657.86 20.8) scale(0.95 1)">8</text><text transform="translate(661.23 20.8) scale(1.319 1)">-</text><text transform="translate(664.06 20.8) scale(0.95 1)">d</text><text transform="translate(667.16 20.8) scale(0.95 1)">e</text><text transform="translate(670.53 20.8) scale(1.581 1)">t</text><text transform="translate(673.63 20.8) scale(1.319 1)">r</text></g>
<line x1="630.2" y1="26.9" x2="644.1" y2="26.9" stroke="#ff7f0e" stroke-width="1.1"/>
<g style="font-size:6px"><text transform="translate(648.83 29.4) scale(1.319 1)">r</text><text transform="translate(651.66 29.4) scale(0.95 1)">p</text><text transform="translate(654.76 29.4) scale(0.95 1)">1</text><text transform="translate(657.86 29.4) scale(0.95 1)">8</text><text transform="translate(661.23 29.4) scale(1.319 1)">-</text><text transform="translate(664.06 29.4) scale(0.95 1)">d</text><text transform="translate(667.16 29.4) scale(0.95 1)">e</text><text transform="translate(670.53 29.4) scale(1.581 1)">t</text><text transform="translate(673.63 29.4) scale(1.319 1)">r</text></g>
<path d="M24.4 253.3 L26.6 300.6 L28.6 251.3 L31.9 324.5 L32.6 321.8 L33.5 330 L34.4 354.8 L35.6 364.5 L37.3 372 L40.4 383.2 L41.3 376.6 L43.3 388.6 L44.6 390.5 L47.3 393.9 L48.6 395.9 L53.2 401.8 L56.6 403.2 L60 405.2 L61.5 408.1 L62.62 408 L63.58 409.35 L64.53 409.93 L65.49 410.21 L66.44 411.1 L67.4 411.03 L68.35 411.71 L69.31 412.09 L70.26 412.49 L71.22 412.46 L72.17 413.58 L73.13 413.51 L74.09 414.03 L75.04 414.38 L76 414.24 L76.95 414.54 L77.91 415.12 L78.86 415.26 L79.82 415.5 L80.77 415.81 L81.73 416.24 L82.69 416.33 L83.64 416.24 L84.6 416.69 L85.55 416.95 L86.51 417.04 L87.46 417.44 L88.42 417.3 L89.37 417.56 L90.33 417.94 L91.28 417.95 L92.24 418.16 L93.2 418.3 L94.15 418.49 L95.11 418.62 L96.06 418.63 L97.02 419.06 L97.97 418.93 L98.93 419.06 L99.88 419.23 L100.84 419.34 L101.8 419.36 L102.75 419.3 L103.71 419.41 L104.66 419.69 L105.62 419.72 L106.57 419.87 L107.53 419.93 L108.48 419.84 L109.44 419.97 L110.4 420.28 L111.35 420.08 L112.31 420.05 L113.26 420.42 L114.22 420.24 L115.17 420.44 L116.13 420.22 L117.08 420.35 L118.04 420.51 L118.99 420.53 L119.95 420.6 L120.91 420.65 L121.86 420.64 L122.82 420.47 L123.77 420.77 L124.73 420.78 L125.68 420.71 L126.64 420.76 L127.59 420.56 L128.55 420.85 L129.5 420.95 L130.46 420.84 L131.42 420.95 L132.37 420.91 L133.33 421.14 L134.28 421.21 L135.24 420.97 L136.19 420.95 L137.15 420.91 L138.1 421.15 L139.06 421.06 L140.02 421.02 L140.97 421.05 L141.93 421 L142.88 421.01 L143.84 421.2 L144.79 421.1 L145.75 421.24 L146.7 421.26 L147.66 421.48 L148.62 421.34 L149.57 421.11 L150.53 421.43 L151.48 421.41 L152.44 421.47 L153.39 421.37 L154.35 421.49 L155.3 421.4 L156.26 421.39 L157.21 421.62 L158.17 421.45 L159.13 421.63 L160.08 421.8 L161.04 421.73 L161.99 421.71 L162.95 421.8 L163.9 421.79 L164.86 422.03 L165.81 422.07 L166.77 422.08 L167.72 422.25 L168.68 422.11 L169.64 422.31 L170.59 422.28 L171.55 422.29 L172.5 422.29 L173.46 422.27 L174.41 422.35 L175.37 422.44 L176.32 422.49 L177.28 422.8 L178.24 422.62 L179.19 422.66 L180.15 422.73 L181.1 422.69 L182.06 422.75 L183.01 422.78 L183.97 422.67 L184.92 422.81 L185.88 423.03 L186.84 422.81 L187.79 423.02 L188.75 423.05 L189.7 423.11 L190.66 423.32 L191.61 423.3 L192.57 423.28 L193.52 423.22 L194.48 423.24 L195.43 423.2 L196.39 423.21 L197.35 423.26 L198.3 423.13 L199.26 423.28 L200.21 423.54 L201.17 423.24 L202.12 423.48 L203.08 423.35 L204.03 423.53 L204.99 423.67 L205.95 423.48 L206.9 423.49 L207.86 423.53 L208.81 423.6 L209.77 423.64 L210.72 423.39 L211.68 423.79 L212.63 423.68 L213.59 423.86 L214.54 423.57" fill="none" stroke="#1f77b4" stroke-width="1.1" stroke-linejoin="round"/>
<path d="M24.4 247.3 L27 277.8 L27.6 279.2 L29.3 290 L30.9 330 L32.6 347.7 L33.3 359.2 L34 355.2 L34.8 360.1 L35.6 364.5 L36.6 368 L38.6 373.3 L41.3 381.2 L43.3 386.6 L45.9 391.9 L48.6 397.2 L51.2 399.2 L52.8 397.8 L54.6 401.8 L57.9 403.8 L60 406.7 L62.62 407.78 L63.58 408.5 L64.53 409.02 L65.49 409.59 L66.44 408.89 L67.4 409.41 L68.35 409.64 L69.31 410.11 L70.26 410.45 L71.22 410.43 L72.17 411.14 L73.13 411 L74.09 411.78 L75.04 411.72 L76 412.29 L76.95 412.61 L77.91 412.78 L78.86 412.97 L79.82 413.22 L80.77 413.45 L81.73 414.23 L82.69 413.93 L83.64 413.92 L84.6 413.46 L85.55 413.28 L86.51 413.72 L87.46 414.34 L88.42 414.75 L89.37 415.53 L90.33 415.63 L91.28 415.79 L92.24 415.89 L93.2 415.73 L94.15 415.68 L95.11 416.13 L96.06 416.18 L97.02 416.15 L97.97 416.25 L98.93 416.52 L99.88 416.71 L100.84 416.66 L101.8 416.64 L102.75 416.89 L103.71 417.01 L104.66 416.78 L105.62 416.98 L106.57 416.8 L107.53 416.9 L108.48 416.95 L109.44 416.91 L110.4 416.74 L111.35 416.97 L112.31 416.87 L113.26 417.18 L114.22 417 L115.17 417.24 L116.13 417.33 L117.08 417.4 L118.04 417.59 L118.99 417.69 L119.95 417.96 L120.91 417.92 L121.86 418.1 L122.82 417.97 L123.77 418.3 L124.73 418.39 L125.68 418.54 L126.64 418.64 L127.59 418.49 L128.55 418.54 L129.5 418.68 L130.46 418.79 L131.42 419.1 L132.37 418.83 L133.33 419.14 L134.28 419.33 L135.24 419.3 L136.19 419.26 L137.15 419.41 L138.1 419.65 L139.06 419.76 L140.02 419.76 L140.97 419.9 L141.93 420.1 L142.88 420.01 L143.84 420.35 L144.79 420.13 L145.75 420.52 L146.7 420.26 L147.66 420.65 L148.62 420.59 L149.57 420.51 L150.53 420.77 L151.48 420.9 L152.44 420.99 L153.39 421.03 L154.35 421.08 L155.3 421.15 L156.26 421.28 L157.21 421.48 L158.17 421.49 L159.13 421.6 L160.08 421.62 L161.04 421.79 L161.99 421.94 L162.95 421.96 L163.9 421.64 L164.86 421.72 L165.81 421.75 L166.77 421.87 L167.72 422.16 L168.68 421.96 L169.64 422.06 L170.59 422.08 L171.55 421.95 L172.5 422.07 L173.46 422.17 L174.41 422.2 L175.37 422.3 L176.32 422.34 L177.28 422.41 L178.24 422.31 L179.19 422.64 L180.15 422.63 L181.1 422.55 L182.06 422.63 L183.01 422.63 L183.97 422.57 L184.92 422.89 L185.88 422.82 L186.84 423.03 L187.79 423.13 L188.75 422.87 L189.7 422.94 L190.66 423.17 L191.61 423.1 L192.57 423.13 L193.52 423.18 L194.48 423.29 L195.43 423.12 L196.39 423.3 L197.35 423.43 L198.3 423.28 L199.26 423.32 L200.21 423.43 L201.17 423.51 L202.12 423.53 L203.08 423.5 L204.03 423.64 L204.99 423.42 L205.95 423.69 L206.9 423.6 L207.86 423.52 L208.81 423.43 L209.77 423.77 L210.72 423.65 L211.68 423.71 L212.63 423.84 L213.59 423.65 L214.54 423.79" fill="none" stroke="#ff7f0e" stroke-width="1.1" stroke-linejoin="round"/>
<rect x="15.1" y="239.1" width="208.5" height="194.1" fill="none" stroke="#9a9a9a" stroke-width="1.45"/>
<line x1="24.5" y1="433.2" x2="24.5" y2="435.6" stroke="#444" stroke-width="0.9"/>
<g style="font-size:7.5px;stroke-width:0.14px;fill:#3a3a3a;stroke:#3a3a3a"><text transform="translate(23 442.8) scale(0.72 1)">0</text></g>
<line x1="48.5" y1="433.2" x2="48.5" y2="435.6" stroke="#444" stroke-width="0.9"/>
<g style="font-size:7.5px;stroke-width:0.14px;fill:#3a3a3a;stroke:#3a3a3a"><text transform="translate(45.52 442.8) scale(0.72 1)">2</text><text transform="translate(48.47 442.8) scale(0.72 1)">5</text></g>
<line x1="72.5" y1="433.2" x2="72.5" y2="435.6" stroke="#444" stroke-width="0.9"/>
<g style="font-size:7.5px;stroke-width:0.14px;fill:#3a3a3a;stroke:#3a3a3a"><text transform="translate(69.52 442.8) scale(0.72 1)">5</text><text transform="translate(72.47 442.8) scale(0.72 1)">0</text></g>
<line x1="96.5" y1="433.2" x2="96.5" y2="435.6" stroke="#444" stroke-width="0.9"/>
<g style="font-size:7.5px;stroke-width:0.14px;fill:#3a3a3a;stroke:#3a3a3a"><text transform="translate(93.52 442.8) scale(0.72 1)">7</text><text transform="translate(96.47 442.8) scale(0.72 1)">5</text></g>
<line x1="119.5" y1="433.2" x2="119.5" y2="435.6" stroke="#444" stroke-width="0.9"/>
<g style="font-size:7.5px;stroke-width:0.14px;fill:#3a3a3a;stroke:#3a3a3a"><text transform="translate(115.05 442.8) scale(0.72 1)">1</text><text transform="translate(118 442.8) scale(0.72 1)">0</text><text transform="translate(120.95 442.8) scale(0.72 1)">0</text></g>
<line x1="143.5" y1="433.2" x2="143.5" y2="435.6" stroke="#444" stroke-width="0.9"/>
<g style="font-size:7.5px;stroke-width:0.14px;fill:#3a3a3a;stroke:#3a3a3a"><text transform="translate(139.05 442.8) scale(0.72 1)">1</text><text transform="translate(142 442.8) scale(0.72 1)">2</text><text transform="translate(144.95 442.8) scale(0.72 1)">5</text></g>
<line x1="167.5" y1="433.2" x2="167.5" y2="435.6" stroke="#444" stroke-width="0.9"/>
<g style="font-size:7.5px;stroke-width:0.14px;fill:#3a3a3a;stroke:#3a3a3a"><text transform="translate(163.05 442.8) scale(0.72 1)">1</text><text transform="translate(166 442.8) scale(0.72 1)">5</text><text transform="translate(168.95 442.8) scale(0.72 1)">0</text></g>
<line x1="191.5" y1="433.2" x2="191.5" y2="435.6" stroke="#444" stroke-width="0.9"/>
<g style="font-size:7.5px;stroke-width:0.14px;fill:#3a3a3a;stroke:#3a3a3a"><text transform="translate(187.05 442.8) scale(0.72 1)">1</text><text transform="translate(190 442.8) scale(0.72 1)">7</text><text transform="translate(192.95 442.8) scale(0.72 1)">5</text></g>
<line x1="215.5" y1="433.2" x2="215.5" y2="435.6" stroke="#444" stroke-width="0.9"/>
<g style="font-size:7.5px;stroke-width:0.14px;fill:#3a3a3a;stroke:#3a3a3a"><text transform="translate(211.05 442.8) scale(0.72 1)">2</text><text transform="translate(214 442.8) scale(0.72 1)">0</text><text transform="translate(216.95 442.8) scale(0.72 1)">0</text></g>
<line x1="12.6" y1="403.5" x2="15.1" y2="403.5" stroke="#444" stroke-width="0.9"/>
<g style="font-size:7.2px;stroke-width:0.14px;fill:#3a3a3a;stroke:#3a3a3a"><text transform="translate(1.22 406.1) scale(0.74 1)">0</text><text transform="translate(4.3 406.1) scale(0.74 1)">.</text><text transform="translate(7.22 406.1) scale(0.74 1)">4</text></g>
<line x1="12.6" y1="369.5" x2="15.1" y2="369.5" stroke="#444" stroke-width="0.9"/>
<g style="font-size:7.2px;stroke-width:0.14px;fill:#3a3a3a;stroke:#3a3a3a"><text transform="translate(1.22 372.1) scale(0.74 1)">0</text><text transform="translate(4.3 372.1) scale(0.74 1)">.</text><text transform="translate(7.22 372.1) scale(0.74 1)">6</text></g>
<line x1="12.6" y1="334.5" x2="15.1" y2="334.5" stroke="#444" stroke-width="0.9"/>
<g style="font-size:7.2px;stroke-width:0.14px;fill:#3a3a3a;stroke:#3a3a3a"><text transform="translate(1.22 337.1) scale(0.74 1)">0</text><text transform="translate(4.3 337.1) scale(0.74 1)">.</text><text transform="translate(7.22 337.1) scale(0.74 1)">8</text></g>
<line x1="12.6" y1="300.5" x2="15.1" y2="300.5" stroke="#444" stroke-width="0.9"/>
<g style="font-size:7.2px;stroke-width:0.14px;fill:#3a3a3a;stroke:#3a3a3a"><text transform="translate(1.22 303.1) scale(0.74 1)">1</text><text transform="translate(4.3 303.1) scale(0.74 1)">.</text><text transform="translate(7.22 303.1) scale(0.74 1)">0</text></g>
<line x1="12.6" y1="265.5" x2="15.1" y2="265.5" stroke="#444" stroke-width="0.9"/>
<g style="font-size:7.2px;stroke-width:0.14px;fill:#3a3a3a;stroke:#3a3a3a"><text transform="translate(1.22 268.1) scale(0.74 1)">1</text><text transform="translate(4.3 268.1) scale(0.74 1)">.</text><text transform="translate(7.22 268.1) scale(0.74 1)">2</text></g>
<g style="font-size:6.1px;stroke-width:0.08px;fill:#2a2a2a;stroke:#2a2a2a"><text transform="translate(111.55 450) scale(0.92 1)">e</text><text transform="translate(114.67 450) scale(0.92 1)">p</text><text transform="translate(117.79 450) scale(0.92 1)">o</text><text transform="translate(121.07 450) scale(0.92 1)">c</text><text transform="translate(124.03 450) scale(0.92 1)">h</text></g>
<g style="font-size:7.5px;fill:#222"><text transform="translate(94.09 234.9) scale(1 1)">v</text><text transform="translate(97.71 234.9) scale(1 1)">a</text><text transform="translate(102.8 234.9) scale(1 1)">l</text><text transform="translate(109.2 234.9) scale(1 1)">g</text><text transform="translate(114.29 234.9) scale(1 1)">i</text><text transform="translate(116.86 234.9) scale(1 1)">o</text><text transform="translate(120.69 234.9) scale(1 1)">u</text><text transform="translate(129.61 234.9) scale(1 1)">l</text><text transform="translate(132.18 234.9) scale(1 1)">o</text><text transform="translate(136.22 234.9) scale(1 1)">s</text><text transform="translate(140.06 234.9) scale(1 1)">s</text></g>
<rect x="168.4" y="242.4" width="52.3" height="19.2" rx="1.2" fill="#fff" fill-opacity="0.8" stroke="#d9d9d9" stroke-width="0.8"/>
<line x1="170.4" y1="247.2" x2="184.3" y2="247.2" stroke="#1f77b4" stroke-width="1.1"/>
<g style="font-size:6px"><text transform="translate(189.03 249.7) scale(1.319 1)">r</text><text transform="translate(192.13 249.7) scale(1.581 1)">t</text><text transform="translate(194.96 249.7) scale(0.95 1)">1</text><text transform="translate(198.06 249.7) scale(0.95 1)">8</text><text transform="translate(201.43 249.7) scale(1.319 1)">-</text><text transform="translate(204.26 249.7) scale(0.95 1)">d</text><text transform="translate(207.36 249.7) scale(0.95 1)">e</text><text transform="translate(210.73 249.7) scale(1.581 1)">t</text><text transform="translate(213.83 249.7) scale(1.319 1)">r</text></g>
<line x1="170.4" y1="255.8" x2="184.3" y2="255.8" stroke="#ff7f0e" stroke-width="1.1"/>
<g style="font-size:6px"><text transform="translate(189.03 258.3) scale(1.319 1)">r</text><text transform="translate(191.86 258.3) scale(0.95 1)">p</text><text transform="translate(194.96 258.3) scale(0.95 1)">1</text><text transform="translate(198.06 258.3) scale(0.95 1)">8</text><text transform="translate(201.43 258.3) scale(1.319 1)">-</text><text transform="translate(204.26 258.3) scale(0.95 1)">d</text><text transform="translate(207.36 258.3) scale(0.95 1)">e</text><text transform="translate(210.73 258.3) scale(1.581 1)">t</text><text transform="translate(213.83 258.3) scale(1.319 1)">r</text></g>
<path d="M254.4 382.4 L257 313.2 L258.9 389.7 L261.3 309.9 L263.6 325.8 L264.6 300 L265.9 259.9 L266.6 255.3 L267.6 259.9 L268.6 247.3 L269.5 253.3 L271.6 256.6 L272.5 270.5 L274.1 257.2 L275.8 279.8 L277.2 279.1 L278.5 298.4 L279.24 301.12 L280.2 305.88 L281.15 310.43 L282.11 315.59 L283.06 320.67 L284.02 329.25 L284.98 329.21 L285.93 329.73 L286.89 336.07 L287.84 339.94 L288.8 344.08 L289.75 347.28 L290.71 349.62 L291.66 352.69 L292.62 357.5 L293.58 361.39 L294.53 361.63 L295.49 364.98 L296.44 364.85 L297.4 366.16 L298.35 369.26 L299.31 369.35 L300.26 371.94 L301.22 373.61 L302.18 377.41 L303.13 378.66 L304.09 380.62 L305.04 382.69 L306 383.91 L306.95 386.75 L307.91 386.6 L308.86 387.66 L309.82 389.5 L310.77 390.13 L311.73 391.37 L312.69 392.26 L313.64 393.87 L314.6 395.14 L315.55 395.17 L316.51 396.26 L317.46 396.82 L318.42 397.7 L319.37 399.54 L320.33 398.97 L321.29 399.53 L322.24 400.11 L323.2 400.59 L324.15 402.16 L325.11 403.04 L326.06 402.54 L327.02 404.23 L327.97 404.75 L328.93 404.72 L329.88 405.42 L330.84 405.65 L331.8 406.85 L332.75 406.89 L333.71 406.59 L334.66 406.03 L335.62 406.2 L336.57 407.44 L337.53 407.13 L338.48 407.9 L339.44 407.56 L340.39 408.46 L341.35 409.14 L342.31 409.08 L343.26 409.33 L344.22 409.36 L345.17 409.96 L346.13 410.44 L347.08 410.45 L348.04 410.79 L348.99 410.93 L349.95 411.3 L350.91 412.22 L351.86 411.49 L352.82 412.05 L353.77 411.85 L354.73 412.79 L355.68 412.4 L356.64 412.94 L357.59 412.74 L358.55 413.65 L359.5 413.77 L360.46 413.61 L361.42 413.65 L362.37 413.74 L363.33 413.76 L364.28 414.23 L365.24 413.85 L366.19 413.89 L367.15 413.99 L368.1 414.31 L369.06 413.74 L370.02 414.71 L370.97 414.57 L371.93 414.62 L372.88 414.64 L373.84 414.68 L374.79 414.76 L375.75 414.8 L376.7 414.54 L377.66 413.85 L378.62 414.95 L379.57 414.64 L380.53 414.78 L381.48 415.55 L382.44 415.54 L383.39 415.22 L384.35 415.75 L385.3 415.62 L386.26 415.15 L387.21 415.52 L388.17 415.24 L389.13 415.17 L390.08 414.52 L391.04 414.49 L391.99 414.55 L392.95 415.32 L393.9 415.79 L394.86 415.91 L395.81 416.31 L396.77 416.16 L397.73 416.77 L398.68 416.96 L399.64 417.33 L400.59 416.86 L401.55 417.42 L402.5 417.89 L403.46 417.86 L404.41 417.9 L405.37 417.94 L406.32 417.79 L407.28 417.46 L408.24 418 L409.19 418.04 L410.15 418.78 L411.1 418.55 L412.06 419.26 L413.01 419.11 L413.97 418.7 L414.92 419.38 L415.88 419.23 L416.84 419.5 L417.79 419.52 L418.75 419.47 L419.7 419.68 L420.66 420.04 L421.61 420.12 L422.57 420.05 L423.52 420.18 L424.48 420.1 L425.43 420.96 L426.39 420.49 L427.35 419.97 L428.3 420.78 L429.26 420.42 L430.21 420.52 L431.17 419.84 L432.12 420.12 L433.08 420.4 L434.03 420.83 L434.99 421.02 L435.95 420.31 L436.9 420.57 L437.86 420.7 L438.81 421.43 L439.77 421.07 L440.72 421.88 L441.68 421.24 L442.63 421.45 L443.59 422.55 L444.54 421.72" fill="none" stroke="#1f77b4" stroke-width="1.1" stroke-linejoin="round"/>
<path d="M254.4 391.7 L256.3 348 L258.3 367.2 L259.3 350 L261.3 300 L261.9 287.1 L263.6 270.5 L265.6 263.9 L266.6 269.2 L267.6 275.1 L269.2 271.8 L270.5 275.8 L271.6 283.1 L272.9 279.8 L274.5 282.4 L276.1 290.4 L277.8 297 L279.24 302.48 L280.2 306.88 L281.15 311.44 L282.11 317.06 L283.06 322.55 L284.02 329.8 L284.98 329.31 L285.93 329.13 L286.89 337.24 L287.84 339.97 L288.8 342.51 L289.75 346.02 L290.71 348.54 L291.66 352.45 L292.62 357.51 L293.58 359.81 L294.53 363.25 L295.49 364.12 L296.44 366 L297.4 366.78 L298.35 366.82 L299.31 370.28 L300.26 372.69 L301.22 375.38 L302.18 376.49 L303.13 380.35 L304.09 382.51 L305.04 383.24 L306 386.05 L306.95 388.49 L307.91 388.24 L308.86 391.26 L309.82 391.31 L310.77 394.33 L311.73 396.74 L312.69 396.11 L313.64 396.65 L314.6 395.34 L315.55 397.05 L316.51 398.27 L317.46 400.13 L318.42 400.64 L319.37 402.03 L320.33 402.28 L321.29 402.72 L322.24 404.33 L323.2 405.56 L324.15 406.45 L325.11 408.14 L326.06 408.53 L327.02 409.89 L327.97 410.56 L328.93 410.5 L329.88 411.25 L330.84 411.63 L331.8 411.26 L332.75 412.74 L333.71 412.2 L334.66 412.77 L335.62 411.59 L336.57 413.19 L337.53 412.48 L338.48 412.23 L339.44 412.85 L340.39 413.55 L341.35 413 L342.31 414.26 L343.26 413.82 L344.22 414.98 L345.17 415.07 L346.13 415.7 L347.08 415.82 L348.04 415.47 L348.99 415.81 L349.95 416.31 L350.91 416.2 L351.86 416.5 L352.82 416.35 L353.77 417.09 L354.73 417.85 L355.68 417.5 L356.64 417.44 L357.59 417.08 L358.55 417.52 L359.5 418.13 L360.46 417.93 L361.42 418.41 L362.37 418.3 L363.33 418.54 L364.28 418.97 L365.24 419 L366.19 419.21 L367.15 419.61 L368.1 419.54 L369.06 419.04 L370.02 420.05 L370.97 420.42 L371.93 420.12 L372.88 419.98 L373.84 419.79 L374.79 419.92 L375.75 420.16 L376.7 420.55 L377.66 420.28 L378.62 420.24 L379.57 419.97 L380.53 420.3 L381.48 419.94 L382.44 420.73 L383.39 420.2 L384.35 419.98 L385.3 420.53 L386.26 420.7 L387.21 420.36 L388.17 420.15 L389.13 421.2 L390.08 420.88 L391.04 421.48 L391.99 421.07 L392.95 421.44 L393.9 421.63 L394.86 421.59 L395.81 421.69 L396.77 422.52 L397.73 422.18 L398.68 422.86 L399.64 422.77 L400.59 422.74 L401.55 423 L402.5 422.69 L403.46 422.67 L404.41 422.72 L405.37 422.61 L406.32 422.23 L407.28 422.64 L408.24 422.61 L409.19 423.15 L410.15 422.64 L411.1 423.75 L412.06 423.18 L413.01 423.6 L413.97 423.37 L414.92 422.64 L415.88 422.97 L416.84 423.36 L417.79 423.37 L418.75 422.86 L419.7 423.49 L420.66 423.43 L421.61 422.96 L422.57 423.66 L423.52 423.29 L424.48 422.85 L425.43 423.49 L426.39 423.33 L427.35 423.16 L428.3 422.91 L429.26 423.12 L430.21 423.74 L431.17 423.25 L432.12 423.12 L433.08 423.24 L434.03 423.96 L434.99 424.2 L435.95 423.33 L436.9 423.49 L437.86 423.91 L438.81 424 L439.77 423.53 L440.72 423.7 L441.68 423.94 L442.63 422.99 L443.59 422.89 L444.54 422.93" fill="none" stroke="#ff7f0e" stroke-width="1.1" stroke-linejoin="round"/>
<rect x="245.5" y="239.1" width="208" height="194.1" fill="none" stroke="#9a9a9a" stroke-width="1.45"/>
<line x1="254.5" y1="433.2" x2="254.5" y2="435.6" stroke="#444" stroke-width="0.9"/>
<g style="font-size:7.5px;stroke-width:0.14px;fill:#3a3a3a;stroke:#3a3a3a"><text transform="translate(253 442.8) scale(0.72 1)">0</text></g>
<line x1="278.5" y1="433.2" x2="278.5" y2="435.6" stroke="#444" stroke-width="0.9"/>
<g style="font-size:7.5px;stroke-width:0.14px;fill:#3a3a3a;stroke:#3a3a3a"><text transform="translate(275.52 442.8) scale(0.72 1)">2</text><text transform="translate(278.47 442.8) scale(0.72 1)">5</text></g>
<line x1="302.5" y1="433.2" x2="302.5" y2="435.6" stroke="#444" stroke-width="0.9"/>
<g style="font-size:7.5px;stroke-width:0.14px;fill:#3a3a3a;stroke:#3a3a3a"><text transform="translate(299.52 442.8) scale(0.72 1)">5</text><text transform="translate(302.47 442.8) scale(0.72 1)">0</text></g>
<line x1="326.5" y1="433.2" x2="326.5" y2="435.6" stroke="#444" stroke-width="0.9"/>
<g style="font-size:7.5px;stroke-width:0.14px;fill:#3a3a3a;stroke:#3a3a3a"><text transform="translate(323.52 442.8) scale(0.72 1)">7</text><text transform="translate(326.47 442.8) scale(0.72 1)">5</text></g>
<line x1="349.5" y1="433.2" x2="349.5" y2="435.6" stroke="#444" stroke-width="0.9"/>
<g style="font-size:7.5px;stroke-width:0.14px;fill:#3a3a3a;stroke:#3a3a3a"><text transform="translate(345.05 442.8) scale(0.72 1)">1</text><text transform="translate(348 442.8) scale(0.72 1)">0</text><text transform="translate(350.95 442.8) scale(0.72 1)">0</text></g>
<line x1="373.5" y1="433.2" x2="373.5" y2="435.6" stroke="#444" stroke-width="0.9"/>
<g style="font-size:7.5px;stroke-width:0.14px;fill:#3a3a3a;stroke:#3a3a3a"><text transform="translate(369.05 442.8) scale(0.72 1)">1</text><text transform="translate(372 442.8) scale(0.72 1)">2</text><text transform="translate(374.95 442.8) scale(0.72 1)">5</text></g>
<line x1="397.5" y1="433.2" x2="397.5" y2="435.6" stroke="#444" stroke-width="0.9"/>
<g style="font-size:7.5px;stroke-width:0.14px;fill:#3a3a3a;stroke:#3a3a3a"><text transform="translate(393.05 442.8) scale(0.72 1)">1</text><text transform="translate(396 442.8) scale(0.72 1)">5</text><text transform="translate(398.95 442.8) scale(0.72 1)">0</text></g>
<line x1="421.5" y1="433.2" x2="421.5" y2="435.6" stroke="#444" stroke-width="0.9"/>
<g style="font-size:7.5px;stroke-width:0.14px;fill:#3a3a3a;stroke:#3a3a3a"><text transform="translate(417.05 442.8) scale(0.72 1)">1</text><text transform="translate(420 442.8) scale(0.72 1)">7</text><text transform="translate(422.95 442.8) scale(0.72 1)">5</text></g>
<line x1="445.5" y1="433.2" x2="445.5" y2="435.6" stroke="#444" stroke-width="0.9"/>
<g style="font-size:7.5px;stroke-width:0.14px;fill:#3a3a3a;stroke:#3a3a3a"><text transform="translate(441.05 442.8) scale(0.72 1)">2</text><text transform="translate(444 442.8) scale(0.72 1)">0</text><text transform="translate(446.95 442.8) scale(0.72 1)">0</text></g>
<line x1="243" y1="421.5" x2="245.5" y2="421.5" stroke="#444" stroke-width="0.9"/>
<g style="font-size:7.2px;stroke-width:0.14px;fill:#3a3a3a;stroke:#3a3a3a"><text transform="translate(231.62 424.1) scale(0.74 1)">0</text><text transform="translate(234.7 424.1) scale(0.74 1)">.</text><text transform="translate(237.62 424.1) scale(0.74 1)">6</text></g>
<line x1="243" y1="399.5" x2="245.5" y2="399.5" stroke="#444" stroke-width="0.9"/>
<g style="font-size:7.2px;stroke-width:0.14px;fill:#3a3a3a;stroke:#3a3a3a"><text transform="translate(231.62 402.1) scale(0.74 1)">0</text><text transform="translate(234.7 402.1) scale(0.74 1)">.</text><text transform="translate(237.62 402.1) scale(0.74 1)">7</text></g>
<line x1="243" y1="377.5" x2="245.5" y2="377.5" stroke="#444" stroke-width="0.9"/>
<g style="font-size:7.2px;stroke-width:0.14px;fill:#3a3a3a;stroke:#3a3a3a"><text transform="translate(231.62 380.1) scale(0.74 1)">0</text><text transform="translate(234.7 380.1) scale(0.74 1)">.</text><text transform="translate(237.62 380.1) scale(0.74 1)">8</text></g>
<line x1="243" y1="356.5" x2="245.5" y2="356.5" stroke="#444" stroke-width="0.9"/>
<g style="font-size:7.2px;stroke-width:0.14px;fill:#3a3a3a;stroke:#3a3a3a"><text transform="translate(231.62 359.1) scale(0.74 1)">0</text><text transform="translate(234.7 359.1) scale(0.74 1)">.</text><text transform="translate(237.62 359.1) scale(0.74 1)">9</text></g>
<line x1="243" y1="334.5" x2="245.5" y2="334.5" stroke="#444" stroke-width="0.9"/>
<g style="font-size:7.2px;stroke-width:0.14px;fill:#3a3a3a;stroke:#3a3a3a"><text transform="translate(231.62 337.1) scale(0.74 1)">1</text><text transform="translate(234.7 337.1) scale(0.74 1)">.</text><text transform="translate(237.62 337.1) scale(0.74 1)">0</text></g>
<line x1="243" y1="312.5" x2="245.5" y2="312.5" stroke="#444" stroke-width="0.9"/>
<g style="font-size:7.2px;stroke-width:0.14px;fill:#3a3a3a;stroke:#3a3a3a"><text transform="translate(231.62 315.1) scale(0.74 1)">1</text><text transform="translate(234.7 315.1) scale(0.74 1)">.</text><text transform="translate(237.62 315.1) scale(0.74 1)">1</text></g>
<line x1="243" y1="290.5" x2="245.5" y2="290.5" stroke="#444" stroke-width="0.9"/>
<g style="font-size:7.2px;stroke-width:0.14px;fill:#3a3a3a;stroke:#3a3a3a"><text transform="translate(231.62 293.1) scale(0.74 1)">1</text><text transform="translate(234.7 293.1) scale(0.74 1)">.</text><text transform="translate(237.62 293.1) scale(0.74 1)">2</text></g>
<line x1="243" y1="269.5" x2="245.5" y2="269.5" stroke="#444" stroke-width="0.9"/>
<g style="font-size:7.2px;stroke-width:0.14px;fill:#3a3a3a;stroke:#3a3a3a"><text transform="translate(231.62 272.1) scale(0.74 1)">1</text><text transform="translate(234.7 272.1) scale(0.74 1)">.</text><text transform="translate(237.62 272.1) scale(0.74 1)">3</text></g>
<line x1="243" y1="247.5" x2="245.5" y2="247.5" stroke="#444" stroke-width="0.9"/>
<g style="font-size:7.2px;stroke-width:0.14px;fill:#3a3a3a;stroke:#3a3a3a"><text transform="translate(231.62 250.1) scale(0.74 1)">1</text><text transform="translate(234.7 250.1) scale(0.74 1)">.</text><text transform="translate(237.62 250.1) scale(0.74 1)">4</text></g>
<g style="font-size:6.1px;stroke-width:0.08px;fill:#2a2a2a;stroke:#2a2a2a"><text transform="translate(341.7 450) scale(0.92 1)">e</text><text transform="translate(344.82 450) scale(0.92 1)">p</text><text transform="translate(347.94 450) scale(0.92 1)">o</text><text transform="translate(351.22 450) scale(0.92 1)">c</text><text transform="translate(354.18 450) scale(0.92 1)">h</text></g>
<g style="font-size:7.5px;fill:#222"><text transform="translate(305.1 234.9) scale(1 1)">v</text><text transform="translate(308.71 234.9) scale(1 1)">a</text><text transform="translate(313.8 234.9) scale(1 1)">l</text><text transform="translate(320.42 234.9) scale(1 1)">c</text><text transform="translate(325.29 234.9) scale(1 1)">l</text><text transform="translate(327.86 234.9) scale(1 1)">a</text><text transform="translate(331.91 234.9) scale(1 1)">s</text><text transform="translate(335.74 234.9) scale(1 1)">s</text><text transform="translate(340.61 234.9) scale(1 1)">i</text><text transform="translate(343.64 234.9) scale(1.562 1)">f</text><text transform="translate(348.27 234.9) scale(1 1)">i</text><text transform="translate(351.06 234.9) scale(1 1)">c</text><text transform="translate(354.67 234.9) scale(1 1)">a</text><text transform="translate(358.96 234.9) scale(1.562 1)">t</text><text transform="translate(363.59 234.9) scale(1 1)">i</text><text transform="translate(366.16 234.9) scale(1 1)">o</text><text transform="translate(369.99 234.9) scale(1 1)">n</text><text transform="translate(378.91 234.9) scale(1 1)">l</text><text transform="translate(381.48 234.9) scale(1 1)">o</text><text transform="translate(385.52 234.9) scale(1 1)">s</text><text transform="translate(389.36 234.9) scale(1 1)">s</text></g>
<rect x="398.3" y="242.4" width="52.3" height="19.2" rx="1.2" fill="#fff" fill-opacity="0.8" stroke="#d9d9d9" stroke-width="0.8"/>
<line x1="400.3" y1="247.2" x2="414.2" y2="247.2" stroke="#1f77b4" stroke-width="1.1"/>
<g style="font-size:6px"><text transform="translate(418.93 249.7) scale(1.319 1)">r</text><text transform="translate(422.03 249.7) scale(1.581 1)">t</text><text transform="translate(424.86 249.7) scale(0.95 1)">1</text><text transform="translate(427.96 249.7) scale(0.95 1)">8</text><text transform="translate(431.33 249.7) scale(1.319 1)">-</text><text transform="translate(434.16 249.7) scale(0.95 1)">d</text><text transform="translate(437.26 249.7) scale(0.95 1)">e</text><text transform="translate(440.63 249.7) scale(1.581 1)">t</text><text transform="translate(443.73 249.7) scale(1.319 1)">r</text></g>
<line x1="400.3" y1="255.8" x2="414.2" y2="255.8" stroke="#ff7f0e" stroke-width="1.1"/>
<g style="font-size:6px"><text transform="translate(418.93 258.3) scale(1.319 1)">r</text><text transform="translate(421.76 258.3) scale(0.95 1)">p</text><text transform="translate(424.86 258.3) scale(0.95 1)">1</text><text transform="translate(427.96 258.3) scale(0.95 1)">8</text><text transform="translate(431.33 258.3) scale(1.319 1)">-</text><text transform="translate(434.16 258.3) scale(0.95 1)">d</text><text transform="translate(437.26 258.3) scale(0.95 1)">e</text><text transform="translate(440.63 258.3) scale(1.581 1)">t</text><text transform="translate(443.73 258.3) scale(1.319 1)">r</text></g>
<path d="M484.5 256.9 L487 349.3 L489.3 309.9 L490.6 349.3 L492.3 369.8 L493 372 L494.2 380 L495.1 392.4 L497.3 402.6 L500.4 407.9 L501.7 403.5 L503.5 409.6 L504.57 410.38 L505.52 411.5 L506.48 411.24 L507.43 411.5 L508.39 410.89 L509.34 411.84 L510.3 412.83 L511.25 412.32 L512.21 412.51 L513.16 412.94 L514.12 414.18 L515.08 414.39 L516.03 414.34 L516.99 414.78 L517.94 414.98 L518.9 414.99 L519.85 415.4 L520.81 415.81 L521.76 415.87 L522.72 416.33 L523.68 416.76 L524.63 417.46 L525.59 417.71 L526.54 417.91 L527.5 418.3 L528.45 418.38 L529.41 418.64 L530.36 418.52 L531.32 418.56 L532.27 418.85 L533.23 418.74 L534.19 419.39 L535.14 419.33 L536.1 419.45 L537.05 419.36 L538.01 419.24 L538.96 419.45 L539.92 419.34 L540.87 419.46 L541.83 419.51 L542.79 419.56 L543.74 419.94 L544.7 419.55 L545.65 420.16 L546.61 419.95 L547.56 420.03 L548.52 420.07 L549.47 420.21 L550.43 420.42 L551.38 420.56 L552.34 420.32 L553.3 420.7 L554.25 420.86 L555.21 420.52 L556.16 420.23 L557.12 420.54 L558.07 420.84 L559.03 421.01 L559.98 421.24 L560.94 420.73 L561.9 420.6 L562.85 420.89 L563.81 420.79 L564.76 421.15 L565.72 421.16 L566.67 421.1 L567.63 421.24 L568.58 421.09 L569.54 421.02 L570.5 421.22 L571.45 421.58 L572.41 421.48 L573.36 421.94 L574.32 421.56 L575.27 421.8 L576.23 421.48 L577.18 421.64 L578.14 421.31 L579.09 421.67 L580.05 421.75 L581.01 421.56 L581.96 421.87 L582.92 421.45 L583.87 421.79 L584.83 421.82 L585.78 421.57 L586.74 422.03 L587.69 421.89 L588.65 421.64 L589.61 421.66 L590.56 422.33 L591.52 422.08 L592.47 421.91 L593.43 422.15 L594.38 422.28 L595.34 422.08 L596.29 422.27 L597.25 422.54 L598.2 422.25 L599.16 422.27 L600.12 422.25 L601.07 422.43 L602.03 422.49 L602.98 422.46 L603.94 422.69 L604.89 422.4 L605.85 422.67 L606.8 422.81 L607.76 422.63 L608.72 422.46 L609.67 422.81 L610.63 422.83 L611.58 423.01 L612.54 422.92 L613.49 422.81 L614.45 422.79 L615.4 423.04 L616.36 422.71 L617.31 423.04 L618.27 422.86 L619.23 423.11 L620.18 423.29 L621.14 423.24 L622.09 422.96 L623.05 422.89 L624 423.27 L624.96 423.26 L625.91 423.16 L626.87 422.94 L627.83 423.44 L628.78 422.92 L629.74 423.31 L630.69 423.02 L631.65 423.4 L632.6 423.21 L633.56 423.26 L634.51 423.13 L635.47 423.19 L636.42 423.27 L637.38 423.15 L638.34 423.42 L639.29 423.42 L640.25 423.12 L641.2 423.26 L642.16 423.43 L643.11 423.3 L644.07 423.54 L645.02 423.47 L645.98 423.69 L646.93 423.33 L647.89 423.76 L648.85 423.68 L649.8 423.24 L650.76 423.25 L651.71 423.62 L652.67 423.98 L653.62 423.25 L654.58 423.66 L655.53 423.88 L656.49 423.85 L657.45 423.83 L658.4 423.56 L659.36 423.57 L660.31 423.6 L661.27 423.51 L662.22 423.41 L663.18 423.85 L664.13 423.39 L665.09 423.72 L666.05 424.07 L667 423.67 L667.96 423.7 L668.91 423.88 L669.87 423.81 L670.82 423.97 L671.78 423.99 L672.73 423.51 L673.69 423.8 L674.64 423.6" fill="none" stroke="#1f77b4" stroke-width="1.1" stroke-linejoin="round"/>
<path d="M484.5 247 L485.5 290 L487 328.5 L488.4 330.5 L489.3 345 L490.6 360 L491.3 373.2 L493.7 393.3 L495.1 393.7 L496.8 400.4 L498.6 401.7 L501.7 405.7 L504.4 410.1 L507.9 412.3 L512.3 413.6 L516.7 415 L521.2 416.3 L522.72 416.49 L523.68 417.04 L524.63 417.38 L525.59 417.43 L526.54 417.57 L527.5 418.09 L528.45 417.73 L529.41 418.05 L530.36 417.99 L531.32 418.35 L532.27 418.5 L533.23 418.71 L534.19 418.81 L535.14 418.49 L536.1 418.67 L537.05 418.76 L538.01 418.86 L538.96 419.08 L539.92 419.08 L540.87 419.01 L541.83 419.1 L542.79 419.85 L543.74 419.08 L544.7 419.93 L545.65 419.3 L546.61 419.4 L547.56 419.63 L548.52 419.71 L549.47 419.85 L550.43 419.83 L551.38 419.94 L552.34 420.13 L553.3 420.3 L554.25 420.23 L555.21 420.4 L556.16 420.27 L557.12 420.72 L558.07 419.75 L559.03 420.3 L559.98 420.47 L560.94 420.43 L561.9 420.57 L562.85 420.61 L563.81 420.87 L564.76 420.61 L565.72 420.67 L566.67 420.54 L567.63 420.82 L568.58 420.77 L569.54 420.97 L570.5 420.89 L571.45 421.07 L572.41 420.95 L573.36 420.85 L574.32 421.02 L575.27 421.06 L576.23 421.42 L577.18 421.2 L578.14 421.34 L579.09 421.49 L580.05 421.43 L581.01 421.29 L581.96 421.42 L582.92 420.93 L583.87 421.56 L584.83 421.27 L585.78 421.09 L586.74 421.62 L587.69 421.45 L588.65 421.23 L589.61 421.74 L590.56 421.9 L591.52 421.69 L592.47 421.59 L593.43 421.88 L594.38 422.19 L595.34 421.67 L596.29 421.81 L597.25 421.78 L598.2 421.99 L599.16 422.02 L600.12 422.15 L601.07 422 L602.03 422.2 L602.98 422.57 L603.94 421.91 L604.89 422.17 L605.85 422.22 L606.8 422.2 L607.76 422.26 L608.72 422.28 L609.67 422.46 L610.63 422.33 L611.58 422.44 L612.54 422.44 L613.49 422.64 L614.45 422.07 L615.4 422.65 L616.36 422.27 L617.31 422.44 L618.27 422.6 L619.23 422.42 L620.18 422.76 L621.14 422.74 L622.09 422.89 L623.05 422.93 L624 422.52 L624.96 423.17 L625.91 422.83 L626.87 422.92 L627.83 422.66 L628.78 422.64 L629.74 423.04 L630.69 422.94 L631.65 422.55 L632.6 423.05 L633.56 423.01 L634.51 422.55 L635.47 422.51 L636.42 422.88 L637.38 422.84 L638.34 423.05 L639.29 423.27 L640.25 423.33 L641.2 422.89 L642.16 422.84 L643.11 423.35 L644.07 423.04 L645.02 422.98 L645.98 423.39 L646.93 423.23 L647.89 423.07 L648.85 423.33 L649.8 423.08 L650.76 423.34 L651.71 423.33 L652.67 423.23 L653.62 422.97 L654.58 423.17 L655.53 423.56 L656.49 423.48 L657.45 423.43 L658.4 423.09 L659.36 423.49 L660.31 423.13 L661.27 423.3 L662.22 423.42 L663.18 423.69 L664.13 423.19 L665.09 423.41 L666.05 423.09 L667 423.2 L667.96 423.59 L668.91 423.53 L669.87 423.63 L670.82 423.72 L671.78 423.82 L672.73 423.58 L673.69 423.26 L674.64 423.41" fill="none" stroke="#ff7f0e" stroke-width="1.1" stroke-linejoin="round"/>
<rect x="475.5" y="239.1" width="207.9" height="194.1" fill="none" stroke="#9a9a9a" stroke-width="1.45"/>
<line x1="484.5" y1="433.2" x2="484.5" y2="435.6" stroke="#444" stroke-width="0.9"/>
<g style="font-size:7.5px;stroke-width:0.14px;fill:#3a3a3a;stroke:#3a3a3a"><text transform="translate(483 442.8) scale(0.72 1)">0</text></g>
<line x1="508.5" y1="433.2" x2="508.5" y2="435.6" stroke="#444" stroke-width="0.9"/>
<g style="font-size:7.5px;stroke-width:0.14px;fill:#3a3a3a;stroke:#3a3a3a"><text transform="translate(505.52 442.8) scale(0.72 1)">2</text><text transform="translate(508.47 442.8) scale(0.72 1)">5</text></g>
<line x1="532.5" y1="433.2" x2="532.5" y2="435.6" stroke="#444" stroke-width="0.9"/>
<g style="font-size:7.5px;stroke-width:0.14px;fill:#3a3a3a;stroke:#3a3a3a"><text transform="translate(529.52 442.8) scale(0.72 1)">5</text><text transform="translate(532.47 442.8) scale(0.72 1)">0</text></g>
<line x1="556.5" y1="433.2" x2="556.5" y2="435.6" stroke="#444" stroke-width="0.9"/>
<g style="font-size:7.5px;stroke-width:0.14px;fill:#3a3a3a;stroke:#3a3a3a"><text transform="translate(553.52 442.8) scale(0.72 1)">7</text><text transform="translate(556.47 442.8) scale(0.72 1)">5</text></g>
<line x1="580.5" y1="433.2" x2="580.5" y2="435.6" stroke="#444" stroke-width="0.9"/>
<g style="font-size:7.5px;stroke-width:0.14px;fill:#3a3a3a;stroke:#3a3a3a"><text transform="translate(576.05 442.8) scale(0.72 1)">1</text><text transform="translate(579 442.8) scale(0.72 1)">0</text><text transform="translate(581.95 442.8) scale(0.72 1)">0</text></g>
<line x1="603.5" y1="433.2" x2="603.5" y2="435.6" stroke="#444" stroke-width="0.9"/>
<g style="font-size:7.5px;stroke-width:0.14px;fill:#3a3a3a;stroke:#3a3a3a"><text transform="translate(599.05 442.8) scale(0.72 1)">1</text><text transform="translate(602 442.8) scale(0.72 1)">2</text><text transform="translate(604.95 442.8) scale(0.72 1)">5</text></g>
<line x1="627.5" y1="433.2" x2="627.5" y2="435.6" stroke="#444" stroke-width="0.9"/>
<g style="font-size:7.5px;stroke-width:0.14px;fill:#3a3a3a;stroke:#3a3a3a"><text transform="translate(623.05 442.8) scale(0.72 1)">1</text><text transform="translate(626 442.8) scale(0.72 1)">5</text><text transform="translate(628.95 442.8) scale(0.72 1)">0</text></g>
<line x1="651.5" y1="433.2" x2="651.5" y2="435.6" stroke="#444" stroke-width="0.9"/>
<g style="font-size:7.5px;stroke-width:0.14px;fill:#3a3a3a;stroke:#3a3a3a"><text transform="translate(647.05 442.8) scale(0.72 1)">1</text><text transform="translate(650 442.8) scale(0.72 1)">7</text><text transform="translate(652.95 442.8) scale(0.72 1)">5</text></g>
<line x1="675.5" y1="433.2" x2="675.5" y2="435.6" stroke="#444" stroke-width="0.9"/>
<g style="font-size:7.5px;stroke-width:0.14px;fill:#3a3a3a;stroke:#3a3a3a"><text transform="translate(671.05 442.8) scale(0.72 1)">2</text><text transform="translate(674 442.8) scale(0.72 1)">0</text><text transform="translate(676.95 442.8) scale(0.72 1)">0</text></g>
<line x1="473" y1="404.5" x2="475.5" y2="404.5" stroke="#444" stroke-width="0.9"/>
<g style="font-size:7.2px;stroke-width:0.14px;fill:#3a3a3a;stroke:#3a3a3a"><text transform="translate(461.62 407.1) scale(0.74 1)">0</text><text transform="translate(464.7 407.1) scale(0.74 1)">.</text><text transform="translate(467.62 407.1) scale(0.74 1)">5</text></g>
<line x1="473" y1="365.5" x2="475.5" y2="365.5" stroke="#444" stroke-width="0.9"/>
<g style="font-size:7.2px;stroke-width:0.14px;fill:#3a3a3a;stroke:#3a3a3a"><text transform="translate(461.62 368.1) scale(0.74 1)">1</text><text transform="translate(464.7 368.1) scale(0.74 1)">.</text><text transform="translate(467.62 368.1) scale(0.74 1)">0</text></g>
<line x1="473" y1="326.5" x2="475.5" y2="326.5" stroke="#444" stroke-width="0.9"/>
<g style="font-size:7.2px;stroke-width:0.14px;fill:#3a3a3a;stroke:#3a3a3a"><text transform="translate(461.62 329.1) scale(0.74 1)">1</text><text transform="translate(464.7 329.1) scale(0.74 1)">.</text><text transform="translate(467.62 329.1) scale(0.74 1)">5</text></g>
<line x1="473" y1="286.5" x2="475.5" y2="286.5" stroke="#444" stroke-width="0.9"/>
<g style="font-size:7.2px;stroke-width:0.14px;fill:#3a3a3a;stroke:#3a3a3a"><text transform="translate(461.62 289.1) scale(0.74 1)">2</text><text transform="translate(464.7 289.1) scale(0.74 1)">.</text><text transform="translate(467.62 289.1) scale(0.74 1)">0</text></g>
<line x1="473" y1="247.5" x2="475.5" y2="247.5" stroke="#444" stroke-width="0.9"/>
<g style="font-size:7.2px;stroke-width:0.14px;fill:#3a3a3a;stroke:#3a3a3a"><text transform="translate(461.62 250.1) scale(0.74 1)">2</text><text transform="translate(464.7 250.1) scale(0.74 1)">.</text><text transform="translate(467.62 250.1) scale(0.74 1)">5</text></g>
<g style="font-size:6.1px;stroke-width:0.08px;fill:#2a2a2a;stroke:#2a2a2a"><text transform="translate(571.65 450) scale(0.92 1)">e</text><text transform="translate(574.77 450) scale(0.92 1)">p</text><text transform="translate(577.89 450) scale(0.92 1)">o</text><text transform="translate(581.17 450) scale(0.92 1)">c</text><text transform="translate(584.13 450) scale(0.92 1)">h</text></g>
<g style="font-size:7.5px;fill:#222"><text transform="translate(558.02 234.9) scale(1 1)">v</text><text transform="translate(561.64 234.9) scale(1 1)">a</text><text transform="translate(566.73 234.9) scale(1 1)">l</text><text transform="translate(574.39 234.9) scale(1 1)">l</text><text transform="translate(576.96 234.9) scale(1 1)">1</text><text transform="translate(585.88 234.9) scale(1 1)">l</text><text transform="translate(588.45 234.9) scale(1 1)">o</text><text transform="translate(592.5 234.9) scale(1 1)">s</text><text transform="translate(596.33 234.9) scale(1 1)">s</text></g>
<rect x="628.2" y="242.4" width="52.3" height="19.2" rx="1.2" fill="#fff" fill-opacity="0.8" stroke="#d9d9d9" stroke-width="0.8"/>
<line x1="630.2" y1="247.2" x2="644.1" y2="247.2" stroke="#1f77b4" stroke-width="1.1"/>
<g style="font-size:6px"><text transform="translate(648.83 249.7) scale(1.319 1)">r</text><text transform="translate(651.93 249.7) scale(1.581 1)">t</text><text transform="translate(654.76 249.7) scale(0.95 1)">1</text><text transform="translate(657.86 249.7) scale(0.95 1)">8</text><text transform="translate(661.23 249.7) scale(1.319 1)">-</text><text transform="translate(664.06 249.7) scale(0.95 1)">d</text><text transform="translate(667.16 249.7) scale(0.95 1)">e</text><text transform="translate(670.53 249.7) scale(1.581 1)">t</text><text transform="translate(673.63 249.7) scale(1.319 1)">r</text></g>
<line x1="630.2" y1="255.8" x2="644.1" y2="255.8" stroke="#ff7f0e" stroke-width="1.1"/>
<g style="font-size:6px"><text transform="translate(648.83 258.3) scale(1.319 1)">r</text><text transform="translate(651.66 258.3) scale(0.95 1)">p</text><text transform="translate(654.76 258.3) scale(0.95 1)">1</text><text transform="translate(657.86 258.3) scale(0.95 1)">8</text><text transform="translate(661.23 258.3) scale(1.319 1)">-</text><text transform="translate(664.06 258.3) scale(0.95 1)">d</text><text transform="translate(667.16 258.3) scale(0.95 1)">e</text><text transform="translate(670.53 258.3) scale(1.581 1)">t</text><text transform="translate(673.63 258.3) scale(1.319 1)">r</text></g>
</svg>
</body></html>
